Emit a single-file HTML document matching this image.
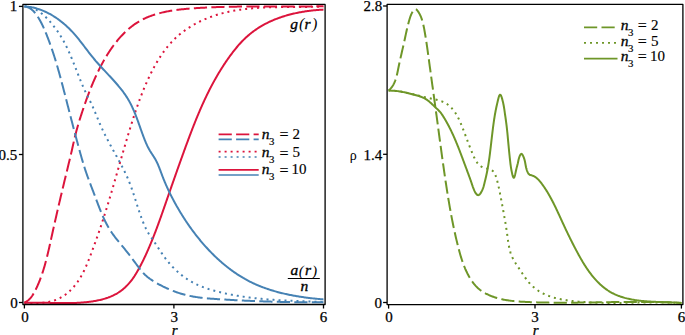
<!DOCTYPE html>
<html><head><meta charset="utf-8"><style>
html,body{margin:0;padding:0;background:#fff;width:685px;height:335px;overflow:hidden;font-family:"Liberation Serif",serif;}
svg{display:block}
</style></head><body>
<svg width="685" height="335" viewBox="0 0 685 335">
<rect width="685" height="335" fill="#fff"/>
<defs><clipPath id="cl"><rect x="22.9" y="4.4" width="302.2" height="300.1"/></clipPath><clipPath id="cr"><rect x="387.1" y="4.4" width="295.8" height="300.2"/></clipPath></defs>
<g clip-path="url(#cl)">
<path d="M24.40,302.70 L25.33,302.23 L26.22,301.71 L27.05,301.14 L27.85,300.54 L28.60,299.91 L29.32,299.24 L30.00,298.53 L30.65,297.80 L31.26,297.05 L31.85,296.26 L32.41,295.46 L32.95,294.64 L33.46,293.80 L33.96,292.94 L34.44,292.08 L34.90,291.20 L35.36,290.31 L35.80,289.42 L36.23,288.53 L36.66,287.63 L37.07,286.73 L37.48,285.83 L37.88,284.92 L38.28,284.01 L38.66,283.09 L39.04,282.17 L39.42,281.25 L39.78,280.33 L40.14,279.40 L40.49,278.47 L40.84,277.54 L41.17,276.61 L41.51,275.67 L41.83,274.73 L42.15,273.78 L42.47,272.84 L42.78,271.89 L43.08,270.94 L43.38,269.99 L43.67,269.04 L43.96,268.08 L44.25,267.12 L44.53,266.16 L44.80,265.20 L45.07,264.24 L45.34,263.27 L45.60,262.31 L45.86,261.34 L46.12,260.37 L46.37,259.40 L46.62,258.43 L46.86,257.46 L47.11,256.48 L47.34,255.51 L47.58,254.53 L47.82,253.56 L48.05,252.58 L48.28,251.60 L48.51,250.62 L48.73,249.64 L48.96,248.66 L49.18,247.68 L49.40,246.70 L49.62,245.72 L49.84,244.74 L50.06,243.76 L50.27,242.78 L50.49,241.80 L50.70,240.82 L50.92,239.84 L51.14,238.86 L51.35,237.88 L51.57,236.90 L51.78,235.92 L52.00,234.94 L52.22,233.97 L52.43,232.99 L52.65,232.01 L52.87,231.03 L53.08,230.06 L53.30,229.08 L53.52,228.11 L53.74,227.13 L53.96,226.16 L54.18,225.19 L54.40,224.21 L54.62,223.24 L54.84,222.27 L55.06,221.29 L55.28,220.32 L55.50,219.35 L55.72,218.38 L55.94,217.41 L56.16,216.44 L56.38,215.46 L56.61,214.49 L56.83,213.52 L57.05,212.55 L57.28,211.58 L57.50,210.61 L57.72,209.64 L57.95,208.67 L58.17,207.71 L58.40,206.74 L58.62,205.77 L58.85,204.80 L59.07,203.83 L59.30,202.86 L59.52,201.89 L59.75,200.92 L59.98,199.96 L60.21,198.99 L60.43,198.02 L60.66,197.05 L60.89,196.08 L61.12,195.11 L61.35,194.15 L61.58,193.18 L61.81,192.21 L62.04,191.24 L62.27,190.27 L62.50,189.30 L62.73,188.34 L62.96,187.37 L63.19,186.40 L63.42,185.43 L63.66,184.46 L63.89,183.49 L64.12,182.52 L64.36,181.55 L64.59,180.58 L64.82,179.61 L65.06,178.64 L65.29,177.67 L65.53,176.70 L65.76,175.73 L66.00,174.76 L66.24,173.79 L66.47,172.82 L66.71,171.85 L66.95,170.88 L67.18,169.90 L67.42,168.93 L67.66,167.96 L67.89,166.99 L68.13,166.01 L68.36,165.04 L68.60,164.07 L68.84,163.09 L69.07,162.12 L69.30,161.15 L69.54,160.17 L69.77,159.20 L70.00,158.23 L70.23,157.25 L70.46,156.28 L70.69,155.31 L70.92,154.33 L71.15,153.36 L71.37,152.38 L71.60,151.41 L71.82,150.44 L72.04,149.46 L72.26,148.49 L72.48,147.51 L72.70,146.54 L72.92,145.57 L73.14,144.59 L73.35,143.62 L73.57,142.65 L73.79,141.68 L74.02,140.70 L74.24,139.73 L74.47,138.76 L74.69,137.79 L74.93,136.83 L75.16,135.86 L75.40,134.89 L75.64,133.93 L75.89,132.96 L76.14,132.00 L76.39,131.04 L76.65,130.08 L76.91,129.12 L77.18,128.16 L77.45,127.20 L77.72,126.25 L78.00,125.29 L78.28,124.33 L78.56,123.38 L78.84,122.43 L79.13,121.47 L79.42,120.52 L79.72,119.57 L80.02,118.62 L80.32,117.67 L80.62,116.72 L80.92,115.77 L81.23,114.82 L81.54,113.87 L81.85,112.92 L82.16,111.97 L82.47,111.02 L82.79,110.07 L83.11,109.13 L83.43,108.18 L83.75,107.23 L84.07,106.29 L84.40,105.34 L84.73,104.40 L85.06,103.45 L85.39,102.51 L85.72,101.56 L86.06,100.62 L86.39,99.68 L86.73,98.73 L87.08,97.79 L87.42,96.85 L87.77,95.92 L88.12,94.98 L88.47,94.04 L88.83,93.10 L89.19,92.17 L89.55,91.24 L89.91,90.30 L90.28,89.37 L90.65,88.44 L91.02,87.51 L91.40,86.59 L91.77,85.66 L92.16,84.74 L92.54,83.81 L92.93,82.89 L93.32,81.97 L93.72,81.05 L94.11,80.14 L94.52,79.22 L94.92,78.31 L95.33,77.40 L95.74,76.49 L96.16,75.58 L96.58,74.68 L97.00,73.78 L97.43,72.88 L97.86,71.98 L98.30,71.08 L98.74,70.19 L99.18,69.30 L99.63,68.41 L100.08,67.52 L100.54,66.64 L101.00,65.75 L101.46,64.87 L101.93,64.00 L102.41,63.12 L102.88,62.25 L103.37,61.38 L103.86,60.52 L104.35,59.65 L104.84,58.79 L105.35,57.94 L105.85,57.08 L106.36,56.23 L106.88,55.38 L107.40,54.54 L107.93,53.70 L108.47,52.86 L109.00,52.02 L109.55,51.19 L110.10,50.37 L110.66,49.54 L111.22,48.72 L111.79,47.91 L112.37,47.10 L112.95,46.29 L113.54,45.48 L114.14,44.68 L114.74,43.89 L115.35,43.10 L115.97,42.31 L116.60,41.53 L117.23,40.75 L117.87,39.98 L118.52,39.21 L119.18,38.45 L119.84,37.69 L120.51,36.94 L121.20,36.19 L121.88,35.45 L122.58,34.72 L123.29,33.99 L124.00,33.27 L124.72,32.55 L125.45,31.85 L126.19,31.15 L126.93,30.46 L127.68,29.79 L128.44,29.12 L129.20,28.46 L129.98,27.81 L130.76,27.18 L131.54,26.55 L132.34,25.94 L133.14,25.34 L133.95,24.75 L134.76,24.18 L135.58,23.62 L136.41,23.07 L137.24,22.54 L138.08,22.02 L138.93,21.52 L139.78,21.03 L140.64,20.55 L141.51,20.08 L142.38,19.63 L143.25,19.18 L144.13,18.75 L145.02,18.34 L145.91,17.93 L146.81,17.53 L147.71,17.15 L148.62,16.78 L149.53,16.42 L150.45,16.07 L151.37,15.73 L152.30,15.40 L153.23,15.08 L154.16,14.77 L155.10,14.47 L156.04,14.18 L156.99,13.90 L157.94,13.63 L158.89,13.36 L159.85,13.11 L160.81,12.87 L161.77,12.63 L162.74,12.40 L163.71,12.18 L164.68,11.97 L165.66,11.76 L166.64,11.56 L167.62,11.37 L168.61,11.19 L169.59,11.01 L170.58,10.84 L171.57,10.68 L172.56,10.52 L173.56,10.37 L174.55,10.23 L175.55,10.09 L176.55,9.95 L177.55,9.82 L178.56,9.70 L179.56,9.58 L180.56,9.46 L181.57,9.35 L182.58,9.25 L183.58,9.15 L184.59,9.05 L185.60,8.96 L186.61,8.86 L187.62,8.78 L188.63,8.69 L189.64,8.61 L190.65,8.53 L191.65,8.46 L192.66,8.38 L193.67,8.31 L194.68,8.24 L195.69,8.18 L196.69,8.11 L197.70,8.05 L198.70,7.98 L199.71,7.92 L200.71,7.86 L201.72,7.80 L202.72,7.75 L203.72,7.69 L204.72,7.64 L205.72,7.59 L206.72,7.54 L207.72,7.49 L208.72,7.44 L209.72,7.40 L210.72,7.35 L211.72,7.31 L212.72,7.27 L213.72,7.23 L214.71,7.19 L215.71,7.15 L216.71,7.12 L217.70,7.08 L218.70,7.05 L219.69,7.02 L220.69,6.99 L221.68,6.96 L222.68,6.93 L223.67,6.90 L224.66,6.87 L225.66,6.85 L226.65,6.82 L227.64,6.80 L228.63,6.78 L229.62,6.76 L230.62,6.74 L231.61,6.72 L232.60,6.70 L233.59,6.68 L234.58,6.67 L235.57,6.65 L236.56,6.64 L237.55,6.62 L238.54,6.61 L239.53,6.60 L240.52,6.58 L241.51,6.57 L242.50,6.56 L243.49,6.55 L244.48,6.55 L245.47,6.54 L246.46,6.53 L247.45,6.52 L248.44,6.52 L249.43,6.51 L250.42,6.51 L251.41,6.50 L252.40,6.50 L253.39,6.50 L254.38,6.49 L255.36,6.49 L256.35,6.49 L257.34,6.49 L258.33,6.49 L259.32,6.49 L260.31,6.48 L261.30,6.48 L262.29,6.48 L263.28,6.48 L264.27,6.49 L265.26,6.49 L266.26,6.49 L267.25,6.49 L268.24,6.49 L269.23,6.49 L270.22,6.49 L271.21,6.50 L272.20,6.50 L273.20,6.50 L274.19,6.50 L275.18,6.50 L276.18,6.51 L277.17,6.51 L278.16,6.51 L279.16,6.51 L280.15,6.51 L281.15,6.51 L282.14,6.52 L283.14,6.52 L284.13,6.52 L285.13,6.52 L286.13,6.52 L287.12,6.52 L288.12,6.52 L289.12,6.52 L290.12,6.52 L291.12,6.52 L292.12,6.52 L293.12,6.52 L294.12,6.52 L295.12,6.51 L296.12,6.51 L297.12,6.51 L298.12,6.51 L299.13,6.50 L300.13,6.50 L301.13,6.49 L302.14,6.49 L303.14,6.48 L304.15,6.47 L305.16,6.47 L306.16,6.46 L307.17,6.45 L308.18,6.44 L309.19,6.43 L310.20,6.42 L311.21,6.41 L312.22,6.39 L313.24,6.38 L314.25,6.37 L315.26,6.35 L316.28,6.34 L317.29,6.32 L318.31,6.30 L319.32,6.28 L320.34,6.26 L321.36,6.24 L322.38,6.22 L323.40,6.20" fill="none" stroke="#dc143c" stroke-width="2.0" stroke-dasharray="13.2 4.3" stroke-linejoin="round"/>

<path d="M24.40,302.70 L25.37,302.75 L26.35,302.81 L27.34,302.86 L28.33,302.90 L29.33,302.94 L30.33,302.98 L31.34,303.01 L32.35,303.03 L33.36,303.05 L34.38,303.05 L35.40,303.05 L36.42,303.04 L37.44,303.02 L38.46,302.99 L39.48,302.95 L40.50,302.89 L41.52,302.82 L42.53,302.74 L43.55,302.64 L44.55,302.53 L45.56,302.40 L46.56,302.26 L47.56,302.10 L48.54,301.92 L49.53,301.72 L50.50,301.51 L51.47,301.27 L52.43,301.01 L53.38,300.74 L54.32,300.44 L55.25,300.11 L56.17,299.77 L57.08,299.40 L57.98,299.01 L58.87,298.59 L59.75,298.16 L60.61,297.70 L61.46,297.22 L62.30,296.72 L63.13,296.21 L63.95,295.67 L64.76,295.12 L65.55,294.54 L66.33,293.95 L67.10,293.34 L67.86,292.72 L68.61,292.08 L69.34,291.42 L70.06,290.75 L70.77,290.07 L71.46,289.37 L72.14,288.65 L72.81,287.93 L73.47,287.19 L74.11,286.44 L74.74,285.68 L75.36,284.91 L75.97,284.13 L76.56,283.34 L77.14,282.53 L77.71,281.72 L78.26,280.90 L78.81,280.07 L79.34,279.23 L79.87,278.39 L80.38,277.53 L80.88,276.67 L81.38,275.80 L81.86,274.92 L82.34,274.04 L82.80,273.15 L83.26,272.26 L83.71,271.36 L84.16,270.45 L84.59,269.54 L85.02,268.62 L85.44,267.70 L85.85,266.78 L86.26,265.85 L86.66,264.91 L87.06,263.98 L87.45,263.04 L87.84,262.10 L88.22,261.16 L88.60,260.21 L88.97,259.27 L89.34,258.32 L89.71,257.37 L90.07,256.42 L90.43,255.47 L90.79,254.52 L91.15,253.58 L91.50,252.63 L91.85,251.68 L92.20,250.73 L92.55,249.79 L92.90,248.85 L93.25,247.90 L93.59,246.96 L93.94,246.02 L94.28,245.08 L94.62,244.14 L94.96,243.20 L95.30,242.26 L95.64,241.33 L95.97,240.39 L96.31,239.45 L96.64,238.51 L96.97,237.58 L97.30,236.64 L97.63,235.70 L97.96,234.77 L98.29,233.83 L98.61,232.89 L98.93,231.96 L99.26,231.02 L99.58,230.08 L99.90,229.14 L100.22,228.21 L100.53,227.27 L100.85,226.33 L101.16,225.39 L101.48,224.44 L101.79,223.50 L102.10,222.56 L102.41,221.62 L102.72,220.67 L103.02,219.73 L103.33,218.78 L103.63,217.84 L103.94,216.89 L104.24,215.94 L104.54,215.00 L104.84,214.05 L105.14,213.10 L105.44,212.15 L105.74,211.20 L106.03,210.25 L106.33,209.30 L106.62,208.35 L106.92,207.40 L107.21,206.45 L107.50,205.49 L107.79,204.54 L108.08,203.59 L108.37,202.63 L108.66,201.68 L108.95,200.73 L109.23,199.77 L109.52,198.82 L109.81,197.86 L110.09,196.90 L110.38,195.95 L110.66,194.99 L110.94,194.03 L111.23,193.08 L111.51,192.12 L111.79,191.16 L112.07,190.20 L112.35,189.24 L112.63,188.28 L112.91,187.33 L113.19,186.37 L113.47,185.41 L113.75,184.45 L114.02,183.49 L114.30,182.53 L114.58,181.57 L114.85,180.61 L115.13,179.64 L115.41,178.68 L115.68,177.72 L115.96,176.76 L116.24,175.80 L116.51,174.84 L116.79,173.88 L117.06,172.92 L117.34,171.95 L117.61,170.99 L117.89,170.03 L118.16,169.07 L118.44,168.11 L118.71,167.14 L118.99,166.18 L119.26,165.22 L119.54,164.26 L119.81,163.30 L120.09,162.33 L120.36,161.37 L120.64,160.41 L120.92,159.45 L121.19,158.49 L121.47,157.52 L121.75,156.56 L122.02,155.60 L122.30,154.64 L122.58,153.68 L122.85,152.72 L123.13,151.76 L123.41,150.79 L123.69,149.83 L123.97,148.87 L124.25,147.91 L124.53,146.95 L124.81,145.99 L125.09,145.03 L125.37,144.07 L125.65,143.11 L125.94,142.16 L126.22,141.20 L126.50,140.24 L126.79,139.28 L127.07,138.32 L127.36,137.36 L127.65,136.41 L127.93,135.45 L128.22,134.49 L128.51,133.54 L128.80,132.58 L129.09,131.62 L129.38,130.67 L129.68,129.71 L129.97,128.76 L130.26,127.81 L130.56,126.85 L130.85,125.90 L131.15,124.95 L131.45,123.99 L131.75,123.04 L132.05,122.09 L132.35,121.14 L132.65,120.19 L132.95,119.24 L133.26,118.29 L133.56,117.34 L133.87,116.39 L134.18,115.44 L134.49,114.50 L134.80,113.55 L135.12,112.61 L135.44,111.66 L135.75,110.72 L136.07,109.77 L136.39,108.83 L136.72,107.89 L137.04,106.95 L137.37,106.01 L137.70,105.07 L138.03,104.13 L138.37,103.19 L138.71,102.25 L139.05,101.32 L139.39,100.38 L139.73,99.45 L140.08,98.51 L140.43,97.58 L140.78,96.65 L141.14,95.72 L141.50,94.79 L141.86,93.86 L142.22,92.94 L142.59,92.01 L142.96,91.08 L143.33,90.16 L143.71,89.24 L144.09,88.32 L144.48,87.40 L144.86,86.48 L145.25,85.56 L145.65,84.64 L146.05,83.73 L146.45,82.81 L146.85,81.90 L147.26,80.99 L147.67,80.08 L148.09,79.17 L148.51,78.26 L148.94,77.35 L149.37,76.45 L149.80,75.55 L150.24,74.64 L150.68,73.74 L151.13,72.85 L151.58,71.95 L152.03,71.05 L152.49,70.16 L152.96,69.27 L153.43,68.38 L153.90,67.49 L154.38,66.61 L154.87,65.73 L155.35,64.85 L155.85,63.97 L156.35,63.10 L156.86,62.23 L157.37,61.37 L157.88,60.51 L158.41,59.65 L158.94,58.80 L159.47,57.95 L160.01,57.10 L160.56,56.26 L161.11,55.43 L161.67,54.60 L162.23,53.77 L162.80,52.95 L163.38,52.14 L163.97,51.33 L164.56,50.53 L165.16,49.73 L165.76,48.94 L166.37,48.15 L166.99,47.37 L167.62,46.60 L168.25,45.84 L168.89,45.08 L169.54,44.32 L170.20,43.58 L170.86,42.84 L171.53,42.11 L172.21,41.39 L172.90,40.67 L173.59,39.97 L174.29,39.27 L175.00,38.58 L175.72,37.89 L176.45,37.22 L177.18,36.56 L177.93,35.90 L178.68,35.25 L179.43,34.61 L180.20,33.98 L180.97,33.35 L181.75,32.74 L182.54,32.13 L183.33,31.53 L184.13,30.94 L184.94,30.36 L185.75,29.78 L186.57,29.22 L187.39,28.66 L188.22,28.11 L189.06,27.57 L189.91,27.04 L190.75,26.51 L191.61,25.99 L192.47,25.48 L193.33,24.98 L194.20,24.49 L195.08,24.00 L195.96,23.53 L196.84,23.06 L197.73,22.60 L198.62,22.14 L199.52,21.70 L200.42,21.26 L201.33,20.83 L202.24,20.41 L203.15,20.00 L204.07,19.59 L204.99,19.19 L205.92,18.80 L206.84,18.42 L207.77,18.04 L208.71,17.68 L209.64,17.32 L210.58,16.97 L211.52,16.62 L212.47,16.29 L213.41,15.96 L214.36,15.64 L215.31,15.33 L216.26,15.02 L217.21,14.72 L218.17,14.43 L219.13,14.15 L220.08,13.88 L221.04,13.61 L222.01,13.35 L222.97,13.10 L223.93,12.85 L224.90,12.61 L225.87,12.38 L226.84,12.15 L227.81,11.93 L228.78,11.72 L229.75,11.51 L230.72,11.31 L231.70,11.12 L232.67,10.93 L233.65,10.75 L234.63,10.57 L235.61,10.40 L236.59,10.24 L237.57,10.08 L238.56,9.93 L239.54,9.78 L240.53,9.64 L241.51,9.50 L242.50,9.37 L243.49,9.24 L244.48,9.12 L245.47,9.00 L246.46,8.89 L247.45,8.78 L248.44,8.67 L249.44,8.57 L250.43,8.48 L251.43,8.39 L252.42,8.30 L253.42,8.22 L254.42,8.14 L255.41,8.06 L256.41,7.99 L257.41,7.93 L258.41,7.86 L259.41,7.80 L260.41,7.74 L261.41,7.69 L262.41,7.64 L263.42,7.59 L264.42,7.54 L265.42,7.50 L266.43,7.46 L267.43,7.42 L268.43,7.39 L269.44,7.36 L270.44,7.33 L271.45,7.30 L272.45,7.27 L273.46,7.25 L274.46,7.23 L275.47,7.21 L276.47,7.19 L277.48,7.17 L278.48,7.16 L279.49,7.14 L280.50,7.13 L281.50,7.12 L282.51,7.11 L283.51,7.10 L284.52,7.09 L285.52,7.08 L286.53,7.08 L287.54,7.07 L288.54,7.06 L289.54,7.06 L290.55,7.05 L291.55,7.05 L292.56,7.04 L293.56,7.04 L294.56,7.03 L295.57,7.03 L296.57,7.02 L297.57,7.02 L298.57,7.01 L299.58,7.00 L300.58,7.00 L301.58,6.99 L302.58,6.98 L303.58,6.97 L304.57,6.96 L305.57,6.95 L306.57,6.93 L307.57,6.92 L308.56,6.90 L309.56,6.88 L310.55,6.86 L311.55,6.84 L312.54,6.82 L313.53,6.79 L314.52,6.76 L315.51,6.73 L316.50,6.70 L317.49,6.66 L318.48,6.63 L319.46,6.59 L320.45,6.54 L321.43,6.50 L322.42,6.45 L323.40,6.40" fill="none" stroke="#dc143c" stroke-width="2.0" stroke-dasharray="2 4" stroke-linejoin="round"/>

<path d="M24.40,302.80 L25.41,302.77 L26.42,302.74 L27.43,302.71 L28.44,302.69 L29.45,302.67 L30.46,302.66 L31.46,302.65 L32.47,302.64 L33.47,302.64 L34.48,302.64 L35.48,302.64 L36.48,302.64 L37.48,302.65 L38.48,302.66 L39.48,302.67 L40.48,302.69 L41.47,302.70 L42.47,302.72 L43.46,302.74 L44.46,302.76 L45.45,302.78 L46.45,302.80 L47.44,302.82 L48.44,302.84 L49.43,302.86 L50.42,302.88 L51.41,302.91 L52.41,302.93 L53.40,302.95 L54.39,302.97 L55.38,302.99 L56.37,303.01 L57.36,303.03 L58.35,303.04 L59.34,303.06 L60.34,303.07 L61.33,303.08 L62.32,303.09 L63.31,303.09 L64.30,303.10 L65.29,303.10 L66.28,303.10 L67.28,303.09 L68.27,303.08 L69.26,303.07 L70.25,303.06 L71.25,303.04 L72.24,303.01 L73.24,302.99 L74.23,302.95 L75.23,302.92 L76.22,302.88 L77.22,302.83 L78.22,302.78 L79.22,302.72 L80.22,302.66 L81.22,302.59 L82.22,302.52 L83.22,302.44 L84.22,302.35 L85.23,302.26 L86.23,302.16 L87.24,302.05 L88.24,301.94 L89.25,301.82 L90.25,301.69 L91.26,301.56 L92.26,301.41 L93.27,301.26 L94.27,301.09 L95.27,300.92 L96.26,300.74 L97.26,300.54 L98.25,300.34 L99.24,300.12 L100.22,299.90 L101.20,299.66 L102.17,299.41 L103.14,299.15 L104.11,298.88 L105.07,298.59 L106.02,298.29 L106.97,297.97 L107.91,297.65 L108.84,297.30 L109.76,296.95 L110.68,296.57 L111.59,296.19 L112.49,295.78 L113.38,295.37 L114.27,294.93 L115.14,294.48 L116.01,294.01 L116.86,293.53 L117.70,293.02 L118.53,292.50 L119.35,291.96 L120.16,291.40 L120.96,290.83 L121.74,290.23 L122.52,289.62 L123.28,288.99 L124.03,288.35 L124.77,287.69 L125.49,287.01 L126.21,286.32 L126.91,285.62 L127.60,284.90 L128.28,284.17 L128.94,283.42 L129.60,282.67 L130.24,281.90 L130.87,281.12 L131.48,280.33 L132.09,279.53 L132.68,278.72 L133.26,277.91 L133.83,277.08 L134.39,276.25 L134.93,275.40 L135.47,274.56 L136.00,273.70 L136.52,272.84 L137.03,271.98 L137.53,271.11 L138.02,270.23 L138.51,269.36 L138.99,268.48 L139.47,267.59 L139.95,266.71 L140.41,265.82 L140.88,264.94 L141.34,264.05 L141.79,263.16 L142.24,262.26 L142.69,261.37 L143.13,260.47 L143.57,259.57 L144.00,258.67 L144.43,257.77 L144.86,256.87 L145.28,255.96 L145.70,255.05 L146.11,254.15 L146.53,253.24 L146.94,252.33 L147.34,251.42 L147.75,250.50 L148.15,249.59 L148.55,248.68 L148.94,247.76 L149.34,246.84 L149.73,245.92 L150.11,245.00 L150.50,244.08 L150.88,243.16 L151.26,242.24 L151.64,241.32 L152.01,240.39 L152.39,239.47 L152.76,238.54 L153.13,237.61 L153.50,236.69 L153.86,235.76 L154.22,234.83 L154.58,233.90 L154.94,232.97 L155.30,232.03 L155.66,231.10 L156.01,230.17 L156.36,229.24 L156.71,228.30 L157.06,227.37 L157.41,226.43 L157.75,225.49 L158.10,224.56 L158.44,223.62 L158.78,222.68 L159.12,221.74 L159.46,220.80 L159.80,219.87 L160.14,218.93 L160.48,217.99 L160.81,217.05 L161.15,216.10 L161.48,215.16 L161.81,214.22 L162.15,213.28 L162.48,212.34 L162.81,211.40 L163.14,210.45 L163.47,209.51 L163.80,208.57 L164.13,207.63 L164.45,206.68 L164.78,205.74 L165.11,204.80 L165.44,203.86 L165.76,202.91 L166.09,201.97 L166.42,201.03 L166.75,200.08 L167.07,199.14 L167.40,198.20 L167.73,197.26 L168.06,196.31 L168.39,195.37 L168.71,194.43 L169.04,193.49 L169.37,192.54 L169.70,191.60 L170.03,190.66 L170.35,189.72 L170.68,188.78 L171.01,187.83 L171.34,186.89 L171.67,185.95 L172.00,185.01 L172.33,184.07 L172.66,183.13 L172.99,182.18 L173.32,181.24 L173.65,180.30 L173.98,179.36 L174.31,178.42 L174.64,177.48 L174.98,176.54 L175.31,175.60 L175.64,174.66 L175.97,173.72 L176.30,172.78 L176.64,171.84 L176.97,170.90 L177.30,169.95 L177.64,169.01 L177.97,168.07 L178.31,167.13 L178.64,166.19 L178.98,165.25 L179.31,164.31 L179.65,163.37 L179.98,162.44 L180.32,161.50 L180.66,160.56 L180.99,159.62 L181.33,158.68 L181.67,157.74 L182.01,156.80 L182.34,155.86 L182.68,154.92 L183.02,153.98 L183.36,153.04 L183.70,152.10 L184.04,151.16 L184.39,150.22 L184.73,149.29 L185.07,148.35 L185.41,147.41 L185.76,146.47 L186.10,145.53 L186.44,144.59 L186.79,143.66 L187.13,142.72 L187.48,141.78 L187.83,140.84 L188.18,139.91 L188.53,138.97 L188.88,138.03 L189.23,137.10 L189.58,136.16 L189.93,135.22 L190.28,134.29 L190.64,133.35 L191.00,132.42 L191.35,131.49 L191.71,130.55 L192.07,129.62 L192.43,128.69 L192.79,127.76 L193.16,126.83 L193.52,125.90 L193.89,124.97 L194.26,124.04 L194.63,123.11 L195.00,122.18 L195.37,121.25 L195.74,120.33 L196.12,119.40 L196.50,118.48 L196.87,117.55 L197.26,116.63 L197.64,115.71 L198.02,114.78 L198.41,113.86 L198.80,112.94 L199.19,112.03 L199.58,111.11 L199.97,110.19 L200.37,109.27 L200.77,108.36 L201.17,107.45 L201.57,106.53 L201.98,105.62 L202.38,104.71 L202.79,103.80 L203.21,102.89 L203.62,101.99 L204.04,101.08 L204.46,100.18 L204.88,99.27 L205.30,98.37 L205.73,97.47 L206.16,96.57 L206.59,95.67 L207.02,94.77 L207.46,93.88 L207.90,92.98 L208.34,92.09 L208.79,91.20 L209.24,90.31 L209.69,89.42 L210.14,88.53 L210.60,87.65 L211.06,86.77 L211.52,85.88 L211.99,85.00 L212.46,84.12 L212.93,83.25 L213.41,82.37 L213.89,81.50 L214.37,80.63 L214.85,79.76 L215.34,78.89 L215.83,78.02 L216.33,77.15 L216.83,76.29 L217.33,75.43 L217.83,74.57 L218.34,73.71 L218.85,72.86 L219.37,72.01 L219.89,71.15 L220.41,70.31 L220.93,69.46 L221.46,68.61 L221.99,67.77 L222.53,66.93 L223.07,66.09 L223.61,65.25 L224.16,64.42 L224.71,63.59 L225.27,62.76 L225.83,61.93 L226.39,61.11 L226.95,60.28 L227.52,59.46 L228.10,58.64 L228.68,57.83 L229.26,57.02 L229.84,56.20 L230.43,55.40 L231.03,54.59 L231.63,53.79 L232.23,52.99 L232.84,52.19 L233.45,51.40 L234.07,50.61 L234.69,49.82 L235.31,49.04 L235.95,48.27 L236.58,47.50 L237.23,46.73 L237.88,45.97 L238.53,45.21 L239.19,44.46 L239.86,43.72 L240.53,42.98 L241.21,42.25 L241.90,41.53 L242.60,40.82 L243.30,40.11 L244.01,39.41 L244.72,38.71 L245.44,38.03 L246.17,37.35 L246.91,36.68 L247.66,36.02 L248.41,35.37 L249.17,34.72 L249.93,34.09 L250.70,33.46 L251.48,32.84 L252.27,32.23 L253.06,31.63 L253.86,31.04 L254.66,30.46 L255.47,29.89 L256.29,29.32 L257.11,28.77 L257.94,28.22 L258.78,27.69 L259.62,27.16 L260.46,26.64 L261.32,26.13 L262.17,25.63 L263.04,25.14 L263.91,24.66 L264.78,24.19 L265.66,23.72 L266.54,23.27 L267.43,22.82 L268.32,22.38 L269.22,21.95 L270.12,21.53 L271.03,21.12 L271.94,20.72 L272.85,20.32 L273.77,19.93 L274.70,19.55 L275.62,19.18 L276.55,18.82 L277.49,18.46 L278.43,18.11 L279.37,17.78 L280.31,17.44 L281.26,17.12 L282.21,16.80 L283.17,16.49 L284.12,16.19 L285.08,15.90 L286.04,15.61 L287.01,15.33 L287.98,15.06 L288.95,14.80 L289.92,14.54 L290.89,14.29 L291.87,14.05 L292.84,13.81 L293.82,13.58 L294.81,13.36 L295.79,13.14 L296.77,12.93 L297.76,12.73 L298.74,12.53 L299.73,12.34 L300.72,12.16 L301.71,11.99 L302.70,11.82 L303.69,11.65 L304.69,11.49 L305.68,11.34 L306.67,11.20 L307.66,11.06 L308.66,10.92 L309.65,10.80 L310.64,10.68 L311.64,10.56 L312.63,10.45 L313.62,10.35 L314.61,10.25 L315.60,10.15 L316.60,10.07 L317.58,9.98 L318.57,9.91 L319.56,9.84 L320.55,9.77 L321.53,9.71 L322.52,9.65 L323.50,9.60" fill="none" stroke="#dc143c" stroke-width="2.0" stroke-linejoin="round"/>

<path d="M24.40,6.40 L25.44,6.57 L26.44,6.80 L27.40,7.11 L28.32,7.48 L29.20,7.91 L30.05,8.39 L30.86,8.93 L31.65,9.51 L32.40,10.15 L33.12,10.82 L33.82,11.52 L34.49,12.26 L35.14,13.03 L35.76,13.83 L36.36,14.64 L36.95,15.47 L37.51,16.32 L38.06,17.17 L38.60,18.03 L39.12,18.90 L39.62,19.77 L40.12,20.65 L40.60,21.53 L41.07,22.42 L41.52,23.31 L41.97,24.20 L42.41,25.10 L42.84,26.00 L43.26,26.91 L43.67,27.81 L44.07,28.73 L44.47,29.64 L44.87,30.55 L45.25,31.47 L45.63,32.39 L46.01,33.31 L46.39,34.24 L46.76,35.16 L47.12,36.09 L47.49,37.01 L47.85,37.94 L48.20,38.87 L48.56,39.80 L48.91,40.73 L49.25,41.67 L49.60,42.60 L49.94,43.54 L50.28,44.48 L50.61,45.41 L50.94,46.35 L51.27,47.29 L51.59,48.24 L51.92,49.18 L52.24,50.12 L52.55,51.07 L52.87,52.01 L53.18,52.96 L53.49,53.91 L53.79,54.86 L54.10,55.81 L54.40,56.76 L54.70,57.71 L54.99,58.66 L55.29,59.61 L55.58,60.57 L55.87,61.52 L56.16,62.48 L56.45,63.44 L56.73,64.39 L57.01,65.35 L57.29,66.31 L57.57,67.27 L57.85,68.23 L58.12,69.19 L58.39,70.15 L58.67,71.11 L58.94,72.07 L59.20,73.04 L59.47,74.00 L59.74,74.96 L60.00,75.93 L60.27,76.89 L60.53,77.85 L60.79,78.82 L61.05,79.79 L61.31,80.75 L61.56,81.72 L61.82,82.68 L62.07,83.65 L62.33,84.62 L62.58,85.58 L62.84,86.55 L63.09,87.52 L63.34,88.49 L63.59,89.45 L63.84,90.42 L64.09,91.39 L64.34,92.36 L64.59,93.33 L64.84,94.29 L65.09,95.26 L65.34,96.23 L65.59,97.20 L65.83,98.17 L66.08,99.13 L66.33,100.10 L66.58,101.07 L66.83,102.04 L67.07,103.00 L67.32,103.97 L67.57,104.94 L67.82,105.91 L68.07,106.87 L68.32,107.84 L68.57,108.81 L68.81,109.77 L69.06,110.74 L69.31,111.70 L69.56,112.67 L69.81,113.64 L70.06,114.60 L70.31,115.57 L70.56,116.53 L70.81,117.50 L71.06,118.47 L71.31,119.43 L71.56,120.40 L71.81,121.36 L72.06,122.33 L72.32,123.29 L72.57,124.26 L72.82,125.22 L73.07,126.19 L73.32,127.15 L73.58,128.12 L73.83,129.08 L74.08,130.04 L74.34,131.01 L74.59,131.97 L74.85,132.94 L75.10,133.90 L75.36,134.87 L75.61,135.83 L75.87,136.79 L76.13,137.76 L76.38,138.72 L76.64,139.69 L76.90,140.65 L77.16,141.61 L77.42,142.58 L77.67,143.54 L77.93,144.50 L78.19,145.47 L78.46,146.43 L78.72,147.40 L78.98,148.36 L79.24,149.32 L79.50,150.29 L79.77,151.25 L80.03,152.21 L80.30,153.17 L80.56,154.14 L80.83,155.10 L81.10,156.06 L81.37,157.02 L81.65,157.98 L81.92,158.94 L82.20,159.90 L82.48,160.86 L82.76,161.82 L83.05,162.77 L83.34,163.73 L83.63,164.68 L83.92,165.64 L84.22,166.59 L84.52,167.54 L84.82,168.49 L85.13,169.44 L85.44,170.39 L85.76,171.33 L86.08,172.28 L86.40,173.22 L86.73,174.16 L87.06,175.10 L87.40,176.04 L87.73,176.98 L88.07,177.91 L88.42,178.85 L88.76,179.78 L89.11,180.72 L89.46,181.65 L89.81,182.58 L90.16,183.52 L90.51,184.45 L90.87,185.38 L91.22,186.32 L91.58,187.25 L91.94,188.18 L92.29,189.11 L92.65,190.05 L93.01,190.98 L93.36,191.91 L93.72,192.85 L94.07,193.78 L94.43,194.72 L94.78,195.65 L95.13,196.59 L95.48,197.53 L95.83,198.47 L96.18,199.41 L96.53,200.34 L96.88,201.28 L97.23,202.22 L97.59,203.16 L97.94,204.09 L98.30,205.03 L98.65,205.97 L99.01,206.90 L99.38,207.83 L99.74,208.76 L100.11,209.69 L100.48,210.62 L100.86,211.54 L101.24,212.47 L101.62,213.39 L102.01,214.31 L102.41,215.22 L102.81,216.13 L103.21,217.04 L103.62,217.95 L104.04,218.85 L104.46,219.75 L104.89,220.65 L105.33,221.54 L105.78,222.42 L106.23,223.31 L106.69,224.19 L107.16,225.06 L107.64,225.93 L108.13,226.79 L108.62,227.65 L109.13,228.51 L109.64,229.35 L110.17,230.20 L110.71,231.03 L111.25,231.86 L111.81,232.69 L112.38,233.51 L112.96,234.32 L113.54,235.13 L114.13,235.94 L114.74,236.74 L115.34,237.53 L115.96,238.33 L116.58,239.12 L117.20,239.90 L117.83,240.69 L118.46,241.47 L119.10,242.25 L119.74,243.03 L120.38,243.81 L121.02,244.58 L121.66,245.36 L122.30,246.13 L122.95,246.91 L123.59,247.68 L124.23,248.46 L124.86,249.24 L125.50,250.02 L126.13,250.80 L126.76,251.58 L127.38,252.36 L127.99,253.15 L128.61,253.94 L129.22,254.73 L129.82,255.52 L130.42,256.31 L131.02,257.11 L131.62,257.90 L132.22,258.70 L132.81,259.49 L133.40,260.29 L133.99,261.09 L134.58,261.88 L135.17,262.68 L135.77,263.48 L136.36,264.27 L136.95,265.07 L137.54,265.86 L138.14,266.65 L138.74,267.44 L139.34,268.23 L139.94,269.01 L140.55,269.79 L141.17,270.56 L141.80,271.33 L142.45,272.08 L143.10,272.81 L143.78,273.54 L144.47,274.24 L145.18,274.93 L145.91,275.60 L146.66,276.25 L147.42,276.89 L148.20,277.52 L149.00,278.12 L149.80,278.72 L150.62,279.30 L151.45,279.87 L152.29,280.42 L153.14,280.97 L153.99,281.50 L154.86,282.03 L155.72,282.54 L156.60,283.05 L157.48,283.55 L158.36,284.04 L159.24,284.52 L160.13,285.00 L161.02,285.46 L161.91,285.92 L162.80,286.38 L163.70,286.82 L164.60,287.26 L165.50,287.69 L166.41,288.11 L167.32,288.52 L168.23,288.93 L169.14,289.32 L170.06,289.71 L170.98,290.09 L171.90,290.47 L172.82,290.83 L173.75,291.19 L174.68,291.53 L175.61,291.87 L176.55,292.20 L177.48,292.53 L178.42,292.84 L179.37,293.14 L180.31,293.44 L181.26,293.73 L182.21,294.01 L183.16,294.28 L184.12,294.54 L185.08,294.79 L186.04,295.03 L187.00,295.27 L187.96,295.49 L188.93,295.71 L189.90,295.91 L190.88,296.11 L191.85,296.30 L192.83,296.48 L193.81,296.65 L194.79,296.82 L195.77,296.98 L196.76,297.13 L197.75,297.27 L198.73,297.41 L199.72,297.54 L200.72,297.66 L201.71,297.78 L202.70,297.89 L203.70,298.00 L204.70,298.10 L205.69,298.20 L206.69,298.30 L207.69,298.39 L208.69,298.47 L209.69,298.56 L210.70,298.64 L211.70,298.71 L212.70,298.79 L213.70,298.86 L214.70,298.93 L215.71,299.00 L216.71,299.06 L217.71,299.13 L218.71,299.19 L219.72,299.25 L220.72,299.32 L221.72,299.38 L222.72,299.44 L223.72,299.50 L224.72,299.56 L225.72,299.62 L226.72,299.68 L227.72,299.74 L228.72,299.80 L229.72,299.85 L230.72,299.91 L231.72,299.97 L232.72,300.02 L233.72,300.07 L234.72,300.13 L235.72,300.18 L236.72,300.23 L237.71,300.28 L238.71,300.34 L239.71,300.39 L240.71,300.43 L241.71,300.48 L242.70,300.53 L243.70,300.58 L244.70,300.63 L245.69,300.67 L246.69,300.72 L247.69,300.76 L248.68,300.81 L249.68,300.85 L250.68,300.89 L251.67,300.94 L252.67,300.98 L253.67,301.02 L254.66,301.06 L255.66,301.10 L256.65,301.14 L257.65,301.18 L258.64,301.21 L259.64,301.25 L260.64,301.29 L261.63,301.32 L262.63,301.36 L263.62,301.39 L264.62,301.43 L265.61,301.46 L266.61,301.49 L267.60,301.52 L268.60,301.55 L269.59,301.59 L270.59,301.62 L271.59,301.64 L272.58,301.67 L273.58,301.70 L274.57,301.73 L275.57,301.76 L276.56,301.78 L277.56,301.81 L278.55,301.83 L279.55,301.86 L280.55,301.88 L281.54,301.90 L282.54,301.92 L283.53,301.95 L284.53,301.97 L285.53,301.99 L286.52,302.01 L287.52,302.03 L288.51,302.05 L289.51,302.06 L290.51,302.08 L291.50,302.10 L292.50,302.11 L293.50,302.13 L294.50,302.14 L295.49,302.16 L296.49,302.17 L297.49,302.18 L298.49,302.20 L299.48,302.21 L300.48,302.22 L301.48,302.23 L302.48,302.24 L303.48,302.25 L304.48,302.26 L305.48,302.26 L306.48,302.27 L307.47,302.28 L308.47,302.28 L309.47,302.29 L310.47,302.29 L311.48,302.30 L312.48,302.30 L313.48,302.30 L314.48,302.31 L315.48,302.31 L316.48,302.31 L317.48,302.31 L318.48,302.31 L319.49,302.31 L320.49,302.31 L321.49,302.31 L322.50,302.30 L323.50,302.30" fill="none" stroke="#4682b4" stroke-width="2.0" stroke-dasharray="13.2 4.3" stroke-linejoin="round"/>

<path d="M24.40,6.40 L25.45,6.49 L26.48,6.62 L27.49,6.79 L28.49,6.99 L29.47,7.22 L30.43,7.49 L31.38,7.79 L32.31,8.12 L33.23,8.48 L34.14,8.87 L35.03,9.28 L35.90,9.73 L36.76,10.20 L37.61,10.69 L38.44,11.21 L39.27,11.75 L40.08,12.31 L40.87,12.90 L41.66,13.50 L42.43,14.12 L43.19,14.76 L43.94,15.42 L44.68,16.09 L45.41,16.78 L46.13,17.48 L46.84,18.19 L47.54,18.91 L48.23,19.65 L48.91,20.39 L49.58,21.14 L50.25,21.90 L50.90,22.67 L51.55,23.44 L52.19,24.22 L52.83,25.00 L53.45,25.78 L54.07,26.57 L54.68,27.37 L55.28,28.17 L55.88,28.97 L56.47,29.78 L57.04,30.60 L57.62,31.41 L58.18,32.24 L58.74,33.06 L59.28,33.90 L59.82,34.73 L60.36,35.57 L60.88,36.42 L61.40,37.27 L61.91,38.12 L62.41,38.98 L62.90,39.84 L63.39,40.71 L63.86,41.58 L64.33,42.46 L64.80,43.34 L65.26,44.22 L65.71,45.10 L66.15,45.99 L66.59,46.88 L67.03,47.78 L67.45,48.68 L67.88,49.58 L68.29,50.48 L68.71,51.39 L69.12,52.30 L69.52,53.21 L69.92,54.12 L70.32,55.04 L70.71,55.96 L71.10,56.88 L71.48,57.80 L71.87,58.72 L72.24,59.65 L72.62,60.57 L73.00,61.50 L73.37,62.43 L73.74,63.36 L74.11,64.29 L74.48,65.22 L74.84,66.15 L75.21,67.08 L75.57,68.01 L75.94,68.95 L76.30,69.88 L76.67,70.81 L77.03,71.74 L77.40,72.68 L77.76,73.61 L78.13,74.54 L78.49,75.47 L78.86,76.40 L79.23,77.33 L79.60,78.26 L79.98,79.19 L80.35,80.11 L80.73,81.04 L81.11,81.96 L81.49,82.88 L81.88,83.80 L82.27,84.72 L82.66,85.64 L83.06,86.55 L83.46,87.46 L83.86,88.37 L84.27,89.28 L84.69,90.19 L85.10,91.09 L85.53,91.99 L85.96,92.88 L86.39,93.77 L86.83,94.66 L87.27,95.55 L87.72,96.44 L88.17,97.33 L88.61,98.21 L89.06,99.10 L89.51,99.98 L89.95,100.87 L90.39,101.76 L90.82,102.65 L91.25,103.55 L91.67,104.45 L92.09,105.35 L92.50,106.26 L92.90,107.17 L93.30,108.08 L93.70,108.99 L94.09,109.91 L94.48,110.83 L94.86,111.75 L95.25,112.67 L95.63,113.59 L96.01,114.51 L96.39,115.44 L96.77,116.36 L97.15,117.29 L97.53,118.21 L97.91,119.13 L98.29,120.06 L98.67,120.98 L99.06,121.90 L99.45,122.82 L99.84,123.74 L100.24,124.65 L100.64,125.57 L101.04,126.48 L101.45,127.39 L101.87,128.30 L102.29,129.20 L102.71,130.10 L103.14,131.01 L103.57,131.90 L104.01,132.80 L104.45,133.70 L104.89,134.59 L105.34,135.48 L105.79,136.37 L106.24,137.26 L106.70,138.14 L107.16,139.03 L107.62,139.91 L108.08,140.80 L108.55,141.68 L109.02,142.56 L109.49,143.44 L109.97,144.32 L110.44,145.20 L110.92,146.07 L111.40,146.95 L111.88,147.82 L112.36,148.70 L112.85,149.58 L113.33,150.45 L113.82,151.33 L114.30,152.20 L114.79,153.07 L115.27,153.95 L115.76,154.82 L116.24,155.70 L116.73,156.57 L117.21,157.45 L117.69,158.33 L118.17,159.20 L118.65,160.08 L119.13,160.96 L119.60,161.84 L120.08,162.72 L120.55,163.60 L121.01,164.48 L121.48,165.37 L121.94,166.25 L122.40,167.14 L122.85,168.03 L123.30,168.92 L123.75,169.81 L124.19,170.71 L124.63,171.60 L125.07,172.50 L125.50,173.40 L125.92,174.30 L126.34,175.21 L126.75,176.11 L127.16,177.02 L127.56,177.94 L127.95,178.85 L128.34,179.77 L128.73,180.69 L129.10,181.61 L129.47,182.54 L129.83,183.47 L130.19,184.40 L130.54,185.33 L130.89,186.27 L131.23,187.21 L131.57,188.15 L131.90,189.09 L132.23,190.03 L132.55,190.98 L132.88,191.92 L133.20,192.87 L133.51,193.82 L133.82,194.77 L134.14,195.72 L134.44,196.68 L134.75,197.63 L135.06,198.58 L135.36,199.54 L135.67,200.49 L135.97,201.44 L136.27,202.40 L136.58,203.35 L136.88,204.31 L137.18,205.26 L137.49,206.21 L137.80,207.17 L138.10,208.12 L138.41,209.07 L138.73,210.02 L139.04,210.97 L139.36,211.91 L139.68,212.86 L140.00,213.81 L140.33,214.75 L140.66,215.69 L140.99,216.63 L141.33,217.57 L141.67,218.50 L142.02,219.44 L142.37,220.37 L142.73,221.30 L143.10,222.22 L143.47,223.14 L143.85,224.06 L144.24,224.98 L144.64,225.89 L145.05,226.79 L145.47,227.69 L145.90,228.58 L146.34,229.47 L146.80,230.34 L147.27,231.21 L147.76,232.08 L148.27,232.93 L148.78,233.77 L149.32,234.61 L149.86,235.45 L150.41,236.28 L150.97,237.10 L151.53,237.92 L152.10,238.74 L152.67,239.56 L153.24,240.38 L153.81,241.20 L154.37,242.03 L154.93,242.85 L155.49,243.68 L156.04,244.51 L156.59,245.35 L157.14,246.18 L157.69,247.02 L158.23,247.85 L158.77,248.69 L159.32,249.52 L159.86,250.36 L160.41,251.19 L160.96,252.03 L161.51,252.86 L162.07,253.68 L162.63,254.51 L163.20,255.33 L163.77,256.14 L164.35,256.95 L164.94,257.76 L165.53,258.56 L166.14,259.35 L166.75,260.14 L167.37,260.92 L168.00,261.70 L168.63,262.47 L169.28,263.23 L169.93,263.99 L170.59,264.74 L171.26,265.48 L171.94,266.21 L172.63,266.94 L173.32,267.66 L174.02,268.37 L174.73,269.07 L175.45,269.76 L176.17,270.45 L176.91,271.13 L177.65,271.80 L178.40,272.46 L179.15,273.11 L179.91,273.75 L180.68,274.38 L181.46,275.01 L182.25,275.62 L183.04,276.23 L183.84,276.82 L184.64,277.40 L185.45,277.98 L186.27,278.54 L187.10,279.09 L187.93,279.64 L188.78,280.17 L189.62,280.69 L190.48,281.20 L191.34,281.70 L192.20,282.18 L193.08,282.66 L193.96,283.12 L194.84,283.57 L195.73,284.01 L196.63,284.44 L197.53,284.86 L198.44,285.26 L199.36,285.66 L200.28,286.04 L201.20,286.42 L202.13,286.78 L203.06,287.14 L204.00,287.49 L204.94,287.83 L205.88,288.16 L206.83,288.48 L207.78,288.79 L208.74,289.10 L209.69,289.40 L210.65,289.69 L211.61,289.97 L212.58,290.25 L213.54,290.53 L214.51,290.79 L215.48,291.05 L216.45,291.31 L217.42,291.56 L218.40,291.81 L219.37,292.05 L220.34,292.28 L221.32,292.52 L222.29,292.74 L223.27,292.97 L224.24,293.19 L225.22,293.40 L226.19,293.61 L227.17,293.82 L228.15,294.02 L229.13,294.22 L230.11,294.42 L231.09,294.61 L232.07,294.80 L233.05,294.98 L234.03,295.16 L235.01,295.34 L235.99,295.51 L236.97,295.68 L237.96,295.84 L238.94,296.00 L239.92,296.16 L240.91,296.32 L241.89,296.47 L242.88,296.62 L243.86,296.76 L244.85,296.90 L245.84,297.04 L246.82,297.17 L247.81,297.31 L248.80,297.44 L249.79,297.56 L250.77,297.69 L251.76,297.81 L252.75,297.92 L253.74,298.04 L254.73,298.15 L255.72,298.26 L256.71,298.37 L257.70,298.47 L258.69,298.57 L259.69,298.67 L260.68,298.77 L261.67,298.86 L262.66,298.95 L263.65,299.04 L264.65,299.13 L265.64,299.21 L266.63,299.30 L267.63,299.38 L268.62,299.45 L269.62,299.53 L270.61,299.61 L271.61,299.68 L272.60,299.75 L273.60,299.82 L274.59,299.88 L275.59,299.95 L276.58,300.01 L277.58,300.08 L278.58,300.14 L279.57,300.20 L280.57,300.25 L281.57,300.31 L282.56,300.36 L283.56,300.42 L284.56,300.47 L285.56,300.52 L286.55,300.57 L287.55,300.62 L288.55,300.66 L289.55,300.71 L290.54,300.76 L291.54,300.80 L292.54,300.84 L293.54,300.89 L294.54,300.93 L295.54,300.97 L296.54,301.01 L297.53,301.05 L298.53,301.09 L299.53,301.13 L300.53,301.16 L301.53,301.20 L302.53,301.24 L303.53,301.27 L304.53,301.31 L305.52,301.35 L306.52,301.38 L307.52,301.42 L308.52,301.45 L309.52,301.49 L310.52,301.52 L311.52,301.56 L312.52,301.59 L313.52,301.63 L314.51,301.66 L315.51,301.70 L316.51,301.74 L317.51,301.77 L318.51,301.81 L319.51,301.85 L320.51,301.88 L321.50,301.92 L322.50,301.96 L323.50,302.00" fill="none" stroke="#4682b4" stroke-width="2.0" stroke-dasharray="2 4" stroke-linejoin="round"/>

<path d="M24.40,6.40 L25.39,6.46 L26.38,6.53 L27.37,6.63 L28.35,6.75 L29.33,6.88 L30.30,7.04 L31.27,7.21 L32.24,7.39 L33.21,7.60 L34.17,7.82 L35.12,8.06 L36.07,8.32 L37.02,8.59 L37.97,8.88 L38.91,9.19 L39.84,9.51 L40.78,9.84 L41.70,10.19 L42.62,10.56 L43.54,10.94 L44.45,11.34 L45.36,11.74 L46.27,12.17 L47.16,12.60 L48.06,13.05 L48.94,13.52 L49.82,13.99 L50.70,14.48 L51.57,14.98 L52.44,15.49 L53.30,16.02 L54.15,16.55 L55.00,17.10 L55.84,17.65 L56.67,18.22 L57.50,18.80 L58.32,19.39 L59.14,19.99 L59.95,20.60 L60.75,21.22 L61.55,21.84 L62.34,22.48 L63.12,23.12 L63.90,23.78 L64.67,24.44 L65.43,25.11 L66.18,25.78 L66.93,26.47 L67.67,27.16 L68.40,27.85 L69.13,28.56 L69.84,29.27 L70.55,29.98 L71.25,30.71 L71.94,31.43 L72.63,32.17 L73.31,32.91 L73.97,33.65 L74.64,34.40 L75.29,35.15 L75.94,35.90 L76.58,36.66 L77.22,37.42 L77.85,38.19 L78.47,38.96 L79.09,39.73 L79.71,40.51 L80.33,41.28 L80.94,42.06 L81.54,42.84 L82.15,43.63 L82.75,44.41 L83.35,45.19 L83.95,45.98 L84.55,46.77 L85.15,47.55 L85.74,48.34 L86.34,49.13 L86.94,49.92 L87.54,50.70 L88.14,51.49 L88.74,52.27 L89.34,53.06 L89.95,53.84 L90.56,54.62 L91.17,55.40 L91.79,56.17 L92.41,56.95 L93.04,57.72 L93.67,58.49 L94.30,59.25 L94.95,60.01 L95.59,60.77 L96.24,61.53 L96.90,62.28 L97.56,63.03 L98.23,63.78 L98.89,64.52 L99.57,65.27 L100.24,66.01 L100.92,66.75 L101.60,67.49 L102.28,68.22 L102.97,68.96 L103.65,69.70 L104.34,70.43 L105.03,71.16 L105.72,71.90 L106.41,72.63 L107.10,73.36 L107.79,74.10 L108.48,74.83 L109.16,75.57 L109.85,76.30 L110.53,77.04 L111.22,77.78 L111.90,78.52 L112.58,79.26 L113.25,80.00 L113.93,80.74 L114.60,81.49 L115.26,82.24 L115.92,82.99 L116.58,83.74 L117.23,84.50 L117.88,85.26 L118.52,86.02 L119.16,86.79 L119.79,87.56 L120.42,88.33 L121.04,89.11 L121.65,89.89 L122.25,90.68 L122.85,91.47 L123.44,92.27 L124.02,93.07 L124.59,93.87 L125.16,94.68 L125.71,95.50 L126.26,96.32 L126.80,97.15 L127.32,97.98 L127.84,98.82 L128.34,99.67 L128.84,100.52 L129.32,101.38 L129.80,102.25 L130.26,103.12 L130.72,104.00 L131.16,104.88 L131.60,105.77 L132.03,106.67 L132.45,107.56 L132.86,108.47 L133.27,109.38 L133.66,110.29 L134.06,111.20 L134.44,112.12 L134.82,113.05 L135.19,113.97 L135.56,114.90 L135.93,115.83 L136.28,116.77 L136.64,117.71 L136.99,118.64 L137.34,119.58 L137.68,120.53 L138.03,121.47 L138.37,122.41 L138.71,123.36 L139.04,124.31 L139.38,125.25 L139.71,126.20 L140.05,127.15 L140.38,128.09 L140.72,129.04 L141.05,129.98 L141.39,130.93 L141.73,131.87 L142.06,132.81 L142.41,133.75 L142.75,134.69 L143.10,135.62 L143.45,136.56 L143.80,137.49 L144.16,138.41 L144.52,139.34 L144.89,140.26 L145.26,141.18 L145.64,142.09 L146.02,143.00 L146.42,143.90 L146.83,144.80 L147.24,145.70 L147.67,146.58 L148.11,147.46 L148.57,148.34 L149.05,149.21 L149.54,150.07 L150.04,150.92 L150.57,151.77 L151.10,152.61 L151.64,153.45 L152.19,154.28 L152.73,155.12 L153.28,155.96 L153.81,156.80 L154.34,157.65 L154.86,158.50 L155.36,159.36 L155.85,160.22 L156.31,161.10 L156.76,161.98 L157.19,162.88 L157.60,163.78 L158.00,164.68 L158.39,165.59 L158.77,166.51 L159.14,167.43 L159.51,168.35 L159.86,169.28 L160.21,170.21 L160.56,171.14 L160.91,172.08 L161.25,173.01 L161.60,173.95 L161.95,174.88 L162.30,175.81 L162.66,176.74 L163.02,177.67 L163.39,178.60 L163.76,179.52 L164.14,180.44 L164.52,181.37 L164.90,182.29 L165.29,183.20 L165.69,184.12 L166.09,185.03 L166.49,185.95 L166.90,186.86 L167.31,187.76 L167.73,188.67 L168.15,189.58 L168.57,190.48 L169.00,191.38 L169.44,192.28 L169.87,193.17 L170.31,194.07 L170.76,194.96 L171.21,195.85 L171.66,196.74 L172.12,197.63 L172.58,198.52 L173.04,199.40 L173.51,200.28 L173.98,201.16 L174.45,202.04 L174.93,202.91 L175.41,203.79 L175.90,204.66 L176.38,205.53 L176.88,206.39 L177.37,207.26 L177.87,208.12 L178.37,208.98 L178.87,209.84 L179.38,210.70 L179.89,211.55 L180.40,212.40 L180.92,213.25 L181.44,214.10 L181.96,214.95 L182.49,215.79 L183.02,216.63 L183.56,217.47 L184.09,218.31 L184.63,219.14 L185.18,219.98 L185.72,220.81 L186.28,221.63 L186.83,222.46 L187.39,223.28 L187.95,224.10 L188.51,224.92 L189.08,225.74 L189.65,226.55 L190.23,227.36 L190.81,228.17 L191.39,228.97 L191.97,229.78 L192.56,230.58 L193.16,231.38 L193.75,232.17 L194.35,232.97 L194.96,233.76 L195.57,234.55 L196.18,235.33 L196.79,236.12 L197.41,236.90 L198.03,237.67 L198.66,238.45 L199.29,239.22 L199.93,239.99 L200.56,240.76 L201.20,241.52 L201.85,242.29 L202.50,243.04 L203.15,243.80 L203.81,244.55 L204.47,245.30 L205.13,246.05 L205.80,246.80 L206.48,247.54 L207.15,248.28 L207.83,249.01 L208.52,249.74 L209.20,250.47 L209.89,251.19 L210.59,251.91 L211.29,252.63 L211.99,253.34 L212.70,254.05 L213.41,254.76 L214.12,255.46 L214.84,256.16 L215.56,256.85 L216.29,257.54 L217.02,258.22 L217.75,258.90 L218.49,259.58 L219.23,260.25 L219.98,260.92 L220.72,261.58 L221.48,262.24 L222.23,262.89 L222.99,263.54 L223.76,264.18 L224.53,264.82 L225.30,265.46 L226.07,266.09 L226.85,266.71 L227.63,267.33 L228.42,267.94 L229.21,268.55 L230.01,269.15 L230.80,269.74 L231.61,270.33 L232.41,270.92 L233.22,271.50 L234.03,272.07 L234.85,272.64 L235.67,273.20 L236.50,273.76 L237.33,274.31 L238.16,274.85 L238.99,275.39 L239.83,275.92 L240.68,276.44 L241.52,276.96 L242.38,277.47 L243.23,277.98 L244.09,278.47 L244.95,278.97 L245.82,279.45 L246.69,279.93 L247.56,280.40 L248.44,280.86 L249.32,281.32 L250.21,281.77 L251.09,282.21 L251.99,282.65 L252.88,283.07 L253.78,283.49 L254.69,283.91 L255.59,284.32 L256.50,284.72 L257.42,285.11 L258.33,285.50 L259.25,285.88 L260.17,286.25 L261.10,286.62 L262.03,286.98 L262.96,287.33 L263.90,287.68 L264.83,288.02 L265.77,288.35 L266.71,288.68 L267.66,289.01 L268.61,289.32 L269.56,289.63 L270.51,289.94 L271.46,290.24 L272.42,290.53 L273.38,290.82 L274.34,291.10 L275.30,291.38 L276.27,291.65 L277.23,291.91 L278.20,292.17 L279.17,292.43 L280.14,292.68 L281.12,292.92 L282.09,293.16 L283.07,293.40 L284.04,293.62 L285.02,293.85 L286.00,294.07 L286.98,294.28 L287.97,294.49 L288.95,294.70 L289.93,294.90 L290.92,295.09 L291.91,295.28 L292.89,295.47 L293.88,295.65 L294.87,295.83 L295.86,296.01 L296.85,296.17 L297.84,296.34 L298.83,296.50 L299.82,296.66 L300.81,296.81 L301.80,296.96 L302.79,297.11 L303.78,297.25 L304.77,297.39 L305.76,297.52 L306.75,297.65 L307.74,297.78 L308.73,297.91 L309.72,298.03 L310.71,298.15 L311.70,298.26 L312.69,298.37 L313.68,298.48 L314.66,298.58 L315.65,298.69 L316.63,298.78 L317.62,298.88 L318.60,298.97 L319.58,299.07 L320.56,299.15 L321.54,299.24 L322.52,299.32 L323.50,299.40" fill="none" stroke="#4682b4" stroke-width="2.0" stroke-linejoin="round"/>

</g>
<g clip-path="url(#cr)">
<path d="M388.60,90.60 L389.37,89.90 L390.09,89.18 L390.76,88.44 L391.39,87.67 L391.98,86.88 L392.53,86.07 L393.04,85.24 L393.52,84.39 L393.97,83.52 L394.38,82.64 L394.77,81.74 L395.13,80.83 L395.46,79.90 L395.78,78.97 L396.07,78.02 L396.34,77.06 L396.60,76.10 L396.84,75.13 L397.08,74.15 L397.30,73.16 L397.51,72.18 L397.72,71.18 L397.92,70.19 L398.12,69.20 L398.32,68.20 L398.52,67.21 L398.73,66.22 L398.93,65.23 L399.14,64.25 L399.36,63.26 L399.57,62.28 L399.78,61.30 L400.00,60.32 L400.22,59.34 L400.44,58.36 L400.66,57.38 L400.88,56.40 L401.10,55.43 L401.33,54.45 L401.55,53.48 L401.77,52.51 L401.99,51.54 L402.22,50.57 L402.44,49.60 L402.66,48.63 L402.88,47.66 L403.10,46.69 L403.32,45.72 L403.54,44.75 L403.76,43.79 L403.97,42.82 L404.19,41.85 L404.40,40.89 L404.61,39.92 L404.82,38.95 L405.03,37.99 L405.23,37.02 L405.44,36.05 L405.64,35.09 L405.85,34.12 L406.06,33.15 L406.27,32.18 L406.49,31.21 L406.70,30.24 L406.92,29.27 L407.15,28.30 L407.38,27.33 L407.61,26.35 L407.86,25.38 L408.10,24.40 L408.36,23.42 L408.62,22.44 L408.89,21.46 L409.17,20.48 L409.46,19.50 L409.76,18.52 L410.07,17.53 L410.40,16.54 L410.75,15.56 L411.14,14.57 L411.59,13.60 L412.10,12.63 L412.70,11.68 L413.37,10.78 L414.09,10.02 L414.82,9.48 L415.53,9.26 L416.21,9.42 L416.84,9.91 L417.43,10.60 L417.98,11.35 L418.51,12.12 L419.00,12.92 L419.47,13.75 L419.91,14.59 L420.33,15.45 L420.72,16.34 L421.09,17.24 L421.44,18.15 L421.76,19.09 L422.07,20.03 L422.36,20.99 L422.63,21.96 L422.89,22.94 L423.14,23.92 L423.37,24.92 L423.59,25.92 L423.80,26.92 L424.00,27.93 L424.19,28.94 L424.38,29.95 L424.56,30.96 L424.74,31.97 L424.91,32.98 L425.08,33.99 L425.25,34.99 L425.42,35.99 L425.58,36.99 L425.74,37.99 L425.90,38.98 L426.06,39.98 L426.21,40.97 L426.37,41.96 L426.52,42.95 L426.66,43.94 L426.81,44.93 L426.95,45.91 L427.10,46.90 L427.24,47.88 L427.38,48.87 L427.52,49.85 L427.66,50.83 L427.79,51.81 L427.93,52.79 L428.06,53.77 L428.20,54.75 L428.33,55.73 L428.47,56.71 L428.60,57.69 L428.73,58.67 L428.86,59.65 L429.00,60.63 L429.13,61.61 L429.26,62.60 L429.39,63.58 L429.53,64.56 L429.66,65.54 L429.80,66.52 L429.93,67.51 L430.06,68.49 L430.20,69.47 L430.33,70.46 L430.47,71.44 L430.60,72.43 L430.74,73.41 L430.87,74.40 L431.01,75.38 L431.14,76.37 L431.28,77.36 L431.41,78.34 L431.55,79.33 L431.68,80.32 L431.82,81.30 L431.96,82.29 L432.09,83.28 L432.23,84.27 L432.36,85.26 L432.50,86.24 L432.64,87.23 L432.77,88.22 L432.91,89.21 L433.05,90.20 L433.18,91.19 L433.32,92.18 L433.46,93.17 L433.59,94.16 L433.73,95.15 L433.87,96.14 L434.00,97.13 L434.14,98.12 L434.28,99.11 L434.41,100.11 L434.55,101.10 L434.68,102.09 L434.82,103.08 L434.96,104.07 L435.09,105.06 L435.23,106.05 L435.37,107.05 L435.50,108.04 L435.64,109.03 L435.77,110.02 L435.91,111.01 L436.04,112.01 L436.18,113.00 L436.32,113.99 L436.45,114.98 L436.59,115.97 L436.72,116.96 L436.86,117.96 L436.99,118.95 L437.12,119.94 L437.26,120.93 L437.39,121.92 L437.53,122.92 L437.66,123.91 L437.79,124.90 L437.93,125.89 L438.06,126.88 L438.19,127.87 L438.33,128.86 L438.46,129.85 L438.59,130.85 L438.73,131.84 L438.86,132.83 L438.99,133.82 L439.12,134.81 L439.26,135.80 L439.39,136.79 L439.52,137.78 L439.66,138.77 L439.79,139.76 L439.92,140.75 L440.05,141.74 L440.19,142.73 L440.32,143.72 L440.45,144.71 L440.59,145.70 L440.72,146.69 L440.86,147.68 L440.99,148.67 L441.12,149.66 L441.26,150.65 L441.39,151.64 L441.53,152.63 L441.66,153.62 L441.80,154.61 L441.93,155.60 L442.07,156.59 L442.21,157.57 L442.34,158.56 L442.48,159.55 L442.62,160.54 L442.75,161.53 L442.89,162.52 L443.03,163.50 L443.17,164.49 L443.31,165.48 L443.45,166.47 L443.59,167.45 L443.73,168.44 L443.87,169.43 L444.01,170.42 L444.15,171.40 L444.30,172.39 L444.44,173.38 L444.58,174.36 L444.73,175.35 L444.87,176.34 L445.02,177.32 L445.16,178.31 L445.31,179.29 L445.46,180.28 L445.60,181.27 L445.75,182.25 L445.90,183.24 L446.05,184.22 L446.20,185.21 L446.35,186.19 L446.50,187.18 L446.66,188.16 L446.81,189.15 L446.96,190.13 L447.12,191.11 L447.27,192.10 L447.43,193.08 L447.59,194.07 L447.75,195.05 L447.91,196.03 L448.07,197.02 L448.23,198.00 L448.39,198.98 L448.55,199.97 L448.72,200.95 L448.88,201.93 L449.05,202.91 L449.22,203.90 L449.39,204.88 L449.56,205.86 L449.73,206.84 L449.90,207.82 L450.08,208.80 L450.25,209.78 L450.43,210.77 L450.61,211.75 L450.79,212.73 L450.97,213.71 L451.15,214.69 L451.34,215.67 L451.52,216.65 L451.71,217.63 L451.90,218.61 L452.09,219.59 L452.28,220.57 L452.47,221.55 L452.67,222.53 L452.87,223.50 L453.06,224.48 L453.27,225.46 L453.47,226.44 L453.67,227.42 L453.88,228.40 L454.09,229.37 L454.30,230.35 L454.51,231.33 L454.72,232.31 L454.94,233.28 L455.16,234.26 L455.38,235.24 L455.60,236.21 L455.82,237.19 L456.05,238.17 L456.28,239.14 L456.51,240.12 L456.74,241.09 L456.98,242.07 L457.22,243.05 L457.46,244.02 L457.70,245.00 L457.94,245.97 L458.19,246.94 L458.44,247.92 L458.69,248.89 L458.95,249.86 L459.21,250.84 L459.47,251.81 L459.74,252.77 L460.02,253.74 L460.29,254.71 L460.58,255.67 L460.87,256.63 L461.16,257.59 L461.46,258.54 L461.77,259.50 L462.08,260.45 L462.40,261.39 L462.73,262.34 L463.07,263.28 L463.41,264.21 L463.76,265.14 L464.12,266.07 L464.49,267.00 L464.87,267.91 L465.25,268.83 L465.65,269.74 L466.06,270.64 L466.47,271.54 L466.90,272.43 L467.34,273.32 L467.79,274.20 L468.25,275.07 L468.72,275.94 L469.20,276.81 L469.70,277.66 L470.21,278.51 L470.73,279.34 L471.27,280.17 L471.82,280.99 L472.39,281.79 L472.98,282.59 L473.58,283.37 L474.19,284.14 L474.83,284.89 L475.48,285.63 L476.16,286.35 L476.85,287.06 L477.56,287.74 L478.29,288.41 L479.05,289.07 L479.82,289.70 L480.62,290.31 L481.44,290.90 L482.28,291.47 L483.14,292.02 L484.02,292.55 L484.91,293.05 L485.81,293.55 L486.72,294.02 L487.65,294.47 L488.58,294.90 L489.52,295.32 L490.46,295.72 L491.40,296.10 L492.35,296.46 L493.30,296.81 L494.25,297.14 L495.21,297.46 L496.16,297.76 L497.12,298.05 L498.08,298.32 L499.05,298.58 L500.01,298.82 L500.98,299.05 L501.95,299.27 L502.92,299.48 L503.89,299.67 L504.87,299.86 L505.84,300.03 L506.82,300.20 L507.80,300.35 L508.78,300.49 L509.76,300.63 L510.74,300.75 L511.73,300.87 L512.72,300.98 L513.70,301.09 L514.69,301.18 L515.68,301.27 L516.67,301.36 L517.66,301.43 L518.65,301.51 L519.64,301.58 L520.64,301.64 L521.63,301.70 L522.62,301.76 L523.62,301.81 L524.61,301.86 L525.61,301.91 L526.60,301.96 L527.60,302.01 L528.59,302.05 L529.59,302.09 L530.59,302.13 L531.58,302.17 L532.58,302.21 L533.58,302.25 L534.58,302.28 L535.57,302.32 L536.57,302.35 L537.57,302.38 L538.57,302.41 L539.57,302.43 L540.56,302.46 L541.56,302.49 L542.56,302.51 L543.56,302.53 L544.56,302.55 L545.56,302.57 L546.56,302.59 L547.56,302.60 L548.56,302.62 L549.56,302.63 L550.56,302.65 L551.56,302.66 L552.56,302.67 L553.56,302.68 L554.57,302.69 L555.57,302.69 L556.57,302.70 L557.57,302.71 L558.57,302.71 L559.57,302.71 L560.58,302.72 L561.58,302.72 L562.58,302.72 L563.58,302.72 L564.58,302.72 L565.59,302.72 L566.59,302.71 L567.59,302.71 L568.60,302.70 L569.60,302.70 L570.60,302.69 L571.60,302.69 L572.61,302.68 L573.61,302.67 L574.61,302.66 L575.62,302.65 L576.62,302.64 L577.62,302.63 L578.63,302.62 L579.63,302.61 L580.63,302.60 L581.64,302.59 L582.64,302.58 L583.64,302.56 L584.65,302.55 L585.65,302.54 L586.66,302.52 L587.66,302.51 L588.66,302.49 L589.67,302.48 L590.67,302.46 L591.67,302.45 L592.68,302.43 L593.68,302.41 L594.68,302.40 L595.69,302.38 L596.69,302.36 L597.69,302.35 L598.70,302.33 L599.70,302.31 L600.70,302.30 L601.71,302.28 L602.71,302.26 L603.71,302.25 L604.72,302.23 L605.72,302.21 L606.72,302.20 L607.73,302.18 L608.73,302.17 L609.73,302.15 L610.73,302.13 L611.74,302.12 L612.74,302.10 L613.74,302.09 L614.74,302.07 L615.74,302.06 L616.75,302.05 L617.75,302.03 L618.75,302.02 L619.75,302.01 L620.75,301.99 L621.75,301.98 L622.76,301.97 L623.76,301.96 L624.76,301.95 L625.76,301.94 L626.76,301.93 L627.76,301.92 L628.76,301.91 L629.76,301.91 L630.76,301.90 L631.76,301.89 L632.76,301.89 L633.76,301.89 L634.75,301.88 L635.75,301.88 L636.75,301.88 L637.75,301.88 L638.75,301.87 L639.75,301.88 L640.74,301.88 L641.74,301.88 L642.74,301.88 L643.74,301.89 L644.73,301.89 L645.73,301.90 L646.73,301.91 L647.72,301.91 L648.72,301.92 L649.71,301.93 L650.71,301.95 L651.70,301.96 L652.70,301.97 L653.69,301.99 L654.69,302.00 L655.68,302.02 L656.67,302.04 L657.67,302.06 L658.66,302.08 L659.65,302.11 L660.64,302.13 L661.63,302.16 L662.63,302.18 L663.62,302.21 L664.61,302.24 L665.60,302.27 L666.59,302.31 L667.58,302.34 L668.57,302.38 L669.56,302.42 L670.55,302.45 L671.54,302.50 L672.52,302.54 L673.51,302.58 L674.50,302.63 L675.49,302.68 L676.47,302.73 L677.46,302.78 L678.44,302.83 L679.43,302.88 L680.42,302.94 L681.40,303.00" fill="none" stroke="#6e9628" stroke-width="2.0" stroke-dasharray="13.2 4.3" stroke-linejoin="round"/>

<path d="M388.60,90.60 L389.61,90.60 L390.61,90.62 L391.61,90.65 L392.61,90.70 L393.61,90.77 L394.60,90.85 L395.60,90.94 L396.59,91.05 L397.58,91.16 L398.57,91.29 L399.56,91.43 L400.54,91.59 L401.53,91.75 L402.51,91.92 L403.49,92.10 L404.47,92.29 L405.45,92.49 L406.43,92.69 L407.41,92.90 L408.39,93.12 L409.36,93.34 L410.34,93.56 L411.31,93.79 L412.28,94.03 L413.25,94.27 L414.23,94.51 L415.20,94.75 L416.17,94.99 L417.14,95.23 L418.10,95.48 L419.07,95.72 L420.04,95.96 L421.01,96.20 L421.98,96.44 L422.94,96.68 L423.91,96.91 L424.88,97.13 L425.84,97.36 L426.81,97.58 L427.78,97.79 L428.74,98.01 L429.71,98.22 L430.68,98.44 L431.66,98.65 L432.63,98.88 L433.61,99.10 L434.59,99.33 L435.57,99.57 L436.56,99.82 L437.55,100.08 L438.54,100.35 L439.53,100.64 L440.51,100.94 L441.48,101.27 L442.43,101.63 L443.36,102.02 L444.26,102.44 L445.13,102.89 L445.98,103.38 L446.80,103.90 L447.60,104.45 L448.37,105.03 L449.12,105.63 L449.84,106.26 L450.54,106.92 L451.23,107.60 L451.89,108.31 L452.53,109.04 L453.15,109.79 L453.75,110.56 L454.33,111.34 L454.90,112.15 L455.45,112.98 L455.98,113.82 L456.50,114.67 L457.00,115.54 L457.49,116.43 L457.96,117.32 L458.42,118.22 L458.87,119.14 L459.31,120.06 L459.74,120.99 L460.16,121.93 L460.57,122.87 L460.97,123.82 L461.36,124.77 L461.75,125.72 L462.13,126.67 L462.50,127.63 L462.87,128.58 L463.23,129.53 L463.59,130.47 L463.95,131.41 L464.30,132.35 L464.65,133.29 L465.00,134.22 L465.35,135.14 L465.69,136.07 L466.04,136.99 L466.38,137.91 L466.73,138.83 L467.07,139.74 L467.42,140.66 L467.76,141.58 L468.11,142.49 L468.46,143.41 L468.81,144.32 L469.16,145.24 L469.52,146.16 L469.88,147.08 L470.24,148.00 L470.60,148.92 L470.97,149.85 L471.34,150.78 L471.72,151.71 L472.10,152.65 L472.49,153.59 L472.89,154.54 L473.29,155.48 L473.70,156.42 L474.13,157.35 L474.58,158.27 L475.04,159.18 L475.52,160.06 L476.03,160.92 L476.56,161.76 L477.12,162.56 L477.71,163.33 L478.33,164.06 L478.99,164.75 L479.68,165.39 L480.42,165.98 L481.20,166.52 L482.02,167.00 L482.89,167.42 L483.81,167.77 L484.76,168.08 L485.74,168.35 L486.73,168.60 L487.72,168.85 L488.70,169.11 L489.65,169.40 L490.57,169.72 L491.43,170.11 L492.23,170.56 L492.96,171.10 L493.60,171.75 L494.16,172.48 L494.64,173.31 L495.06,174.19 L495.44,175.12 L495.78,176.09 L496.10,177.06 L496.40,178.04 L496.70,179.03 L496.98,180.01 L497.25,180.99 L497.51,181.98 L497.76,182.96 L498.00,183.95 L498.23,184.94 L498.46,185.93 L498.68,186.92 L498.89,187.90 L499.10,188.89 L499.30,189.88 L499.50,190.87 L499.70,191.86 L499.89,192.84 L500.08,193.83 L500.27,194.81 L500.46,195.80 L500.65,196.78 L500.84,197.76 L501.02,198.75 L501.21,199.73 L501.40,200.71 L501.58,201.68 L501.77,202.66 L501.95,203.64 L502.14,204.62 L502.32,205.59 L502.51,206.57 L502.69,207.55 L502.87,208.52 L503.05,209.50 L503.23,210.48 L503.41,211.45 L503.59,212.43 L503.76,213.40 L503.94,214.38 L504.11,215.36 L504.28,216.33 L504.46,217.31 L504.63,218.29 L504.80,219.27 L504.96,220.25 L505.13,221.23 L505.30,222.21 L505.46,223.19 L505.62,224.17 L505.78,225.16 L505.94,226.14 L506.10,227.13 L506.25,228.11 L506.41,229.10 L506.56,230.09 L506.71,231.08 L506.86,232.08 L507.00,233.07 L507.15,234.07 L507.29,235.06 L507.43,236.06 L507.57,237.06 L507.71,238.07 L507.84,239.07 L507.98,240.08 L508.12,241.08 L508.27,242.08 L508.42,243.08 L508.57,244.08 L508.74,245.08 L508.92,246.07 L509.10,247.06 L509.31,248.04 L509.52,249.01 L509.75,249.98 L510.00,250.94 L510.27,251.90 L510.56,252.84 L510.87,253.77 L511.21,254.70 L511.57,255.61 L511.96,256.51 L512.36,257.40 L512.80,258.28 L513.25,259.16 L513.71,260.02 L514.20,260.88 L514.70,261.73 L515.21,262.58 L515.74,263.42 L516.28,264.26 L516.82,265.09 L517.37,265.92 L517.93,266.76 L518.49,267.59 L519.05,268.42 L519.61,269.25 L520.17,270.08 L520.72,270.92 L521.28,271.76 L521.83,272.60 L522.38,273.44 L522.93,274.27 L523.49,275.11 L524.05,275.94 L524.61,276.77 L525.18,277.59 L525.76,278.40 L526.34,279.20 L526.94,280.00 L527.55,280.78 L528.18,281.55 L528.81,282.31 L529.46,283.05 L530.13,283.78 L530.81,284.50 L531.50,285.20 L532.21,285.89 L532.93,286.56 L533.67,287.21 L534.42,287.85 L535.19,288.48 L535.97,289.08 L536.77,289.67 L537.59,290.24 L538.42,290.79 L539.26,291.32 L540.11,291.84 L540.98,292.34 L541.86,292.83 L542.75,293.29 L543.65,293.75 L544.56,294.18 L545.48,294.60 L546.40,295.00 L547.34,295.39 L548.28,295.76 L549.22,296.11 L550.17,296.45 L551.12,296.77 L552.08,297.08 L553.04,297.38 L554.00,297.66 L554.96,297.92 L555.93,298.17 L556.90,298.41 L557.87,298.64 L558.84,298.86 L559.82,299.06 L560.79,299.26 L561.77,299.44 L562.75,299.62 L563.73,299.79 L564.71,299.95 L565.69,300.10 L566.68,300.25 L567.66,300.39 L568.65,300.52 L569.63,300.65 L570.62,300.78 L571.60,300.90 L572.59,301.02 L573.58,301.13 L574.57,301.24 L575.56,301.34 L576.55,301.44 L577.54,301.54 L578.53,301.63 L579.52,301.72 L580.51,301.81 L581.50,301.89 L582.49,301.97 L583.49,302.04 L584.48,302.11 L585.47,302.18 L586.47,302.24 L587.46,302.30 L588.46,302.36 L589.45,302.41 L590.45,302.46 L591.45,302.51 L592.44,302.56 L593.44,302.60 L594.44,302.64 L595.43,302.68 L596.43,302.71 L597.43,302.74 L598.43,302.77 L599.43,302.80 L600.43,302.82 L601.42,302.84 L602.42,302.86 L603.42,302.88 L604.42,302.89 L605.42,302.91 L606.42,302.92 L607.43,302.93 L608.43,302.93 L609.43,302.94 L610.43,302.94 L611.43,302.94 L612.43,302.94 L613.43,302.94 L614.44,302.94 L615.44,302.94 L616.44,302.93 L617.44,302.92 L618.44,302.92 L619.45,302.91 L620.45,302.90 L621.45,302.89 L622.46,302.88 L623.46,302.86 L624.46,302.85 L625.46,302.83 L626.47,302.82 L627.47,302.80 L628.47,302.79 L629.48,302.77 L630.48,302.76 L631.48,302.74 L632.49,302.72 L633.49,302.70 L634.49,302.69 L635.49,302.67 L636.50,302.65 L637.50,302.63 L638.50,302.62 L639.50,302.60 L640.51,302.58 L641.51,302.57 L642.51,302.55 L643.51,302.53 L644.52,302.52 L645.52,302.51 L646.52,302.49 L647.52,302.48 L648.52,302.47 L649.52,302.46 L650.52,302.45 L651.52,302.44 L652.52,302.43 L653.52,302.42 L654.52,302.42 L655.52,302.41 L656.52,302.41 L657.52,302.41 L658.52,302.41 L659.52,302.41 L660.52,302.42 L661.52,302.42 L662.51,302.43 L663.51,302.44 L664.51,302.45 L665.51,302.46 L666.50,302.48 L667.50,302.50 L668.49,302.51 L669.49,302.54 L670.48,302.56 L671.48,302.59 L672.47,302.62 L673.47,302.65 L674.46,302.68 L675.45,302.72 L676.45,302.76 L677.44,302.80 L678.43,302.85 L679.42,302.89 L680.41,302.95 L681.40,303.00" fill="none" stroke="#6e9628" stroke-width="2.0" stroke-dasharray="2 4" stroke-linejoin="round"/>

<path d="M388.60,90.60 L389.62,90.59 L390.63,90.60 L391.64,90.63 L392.65,90.67 L393.65,90.73 L394.64,90.81 L395.64,90.90 L396.63,91.01 L397.62,91.13 L398.60,91.26 L399.58,91.41 L400.56,91.57 L401.54,91.74 L402.52,91.92 L403.49,92.12 L404.47,92.32 L405.44,92.53 L406.41,92.75 L407.38,92.98 L408.35,93.21 L409.32,93.45 L410.29,93.70 L411.25,93.95 L412.22,94.21 L413.19,94.47 L414.17,94.73 L415.14,95.00 L416.11,95.26 L417.08,95.54 L418.05,95.83 L419.01,96.12 L419.96,96.44 L420.91,96.77 L421.84,97.13 L422.76,97.51 L423.66,97.92 L424.54,98.36 L425.40,98.84 L426.24,99.36 L427.06,99.91 L427.86,100.49 L428.64,101.10 L429.41,101.74 L430.17,102.39 L430.91,103.07 L431.65,103.75 L432.38,104.45 L433.11,105.15 L433.84,105.86 L434.56,106.56 L435.29,107.26 L436.02,107.96 L436.75,108.64 L437.48,109.33 L438.20,110.02 L438.91,110.73 L439.59,111.45 L440.24,112.19 L440.87,112.97 L441.47,113.76 L442.04,114.58 L442.60,115.41 L443.14,116.25 L443.67,117.10 L444.20,117.95 L444.72,118.81 L445.23,119.67 L445.73,120.54 L446.23,121.41 L446.72,122.28 L447.20,123.16 L447.68,124.04 L448.16,124.92 L448.62,125.81 L449.08,126.70 L449.54,127.59 L449.99,128.48 L450.44,129.38 L450.87,130.27 L451.31,131.17 L451.74,132.08 L452.16,132.98 L452.58,133.88 L453.00,134.79 L453.41,135.70 L453.82,136.61 L454.22,137.52 L454.62,138.43 L455.01,139.35 L455.41,140.27 L455.79,141.18 L456.18,142.10 L456.56,143.02 L456.94,143.95 L457.31,144.87 L457.69,145.80 L458.06,146.72 L458.43,147.65 L458.79,148.58 L459.15,149.51 L459.52,150.44 L459.88,151.37 L460.23,152.30 L460.59,153.24 L460.94,154.17 L461.30,155.11 L461.65,156.04 L462.00,156.98 L462.35,157.92 L462.70,158.86 L463.05,159.79 L463.40,160.73 L463.75,161.67 L464.10,162.62 L464.45,163.56 L464.80,164.50 L465.15,165.44 L465.50,166.38 L465.85,167.33 L466.20,168.27 L466.56,169.21 L466.91,170.16 L467.26,171.10 L467.61,172.04 L467.96,172.98 L468.31,173.92 L468.66,174.86 L469.00,175.79 L469.34,176.73 L469.68,177.66 L470.01,178.58 L470.34,179.51 L470.66,180.43 L470.98,181.35 L471.29,182.26 L471.60,183.17 L471.90,184.08 L472.20,184.99 L472.52,185.92 L472.85,186.87 L473.22,187.86 L473.63,188.89 L474.08,189.98 L474.58,191.09 L475.13,192.18 L475.71,193.18 L476.33,194.04 L476.97,194.69 L477.63,195.09 L478.31,195.16 L478.99,194.90 L479.67,194.36 L480.33,193.58 L480.96,192.65 L481.55,191.60 L482.09,190.51 L482.57,189.42 L482.98,188.39 L483.32,187.41 L483.62,186.45 L483.88,185.53 L484.12,184.61 L484.34,183.70 L484.56,182.77 L484.79,181.83 L485.02,180.87 L485.25,179.90 L485.48,178.92 L485.71,177.93 L485.94,176.93 L486.17,175.93 L486.39,174.93 L486.61,173.94 L486.82,172.95 L487.02,171.96 L487.22,170.97 L487.41,169.98 L487.59,169.00 L487.77,168.02 L487.94,167.04 L488.11,166.07 L488.28,165.09 L488.43,164.12 L488.59,163.14 L488.74,162.17 L488.88,161.19 L489.03,160.22 L489.17,159.24 L489.30,158.26 L489.44,157.29 L489.57,156.31 L489.70,155.33 L489.82,154.34 L489.95,153.36 L490.07,152.37 L490.19,151.38 L490.31,150.38 L490.43,149.39 L490.55,148.39 L490.67,147.39 L490.79,146.38 L490.90,145.38 L491.02,144.37 L491.14,143.36 L491.25,142.36 L491.37,141.35 L491.48,140.34 L491.60,139.33 L491.72,138.32 L491.83,137.31 L491.95,136.30 L492.07,135.29 L492.19,134.28 L492.31,133.28 L492.43,132.27 L492.55,131.27 L492.67,130.27 L492.80,129.27 L492.92,128.27 L493.05,127.28 L493.18,126.29 L493.31,125.30 L493.45,124.32 L493.58,123.34 L493.72,122.36 L493.86,121.39 L494.00,120.42 L494.14,119.46 L494.29,118.50 L494.44,117.55 L494.60,116.60 L494.75,115.66 L494.91,114.72 L495.07,113.79 L495.24,112.87 L495.41,111.96 L495.58,111.04 L495.76,110.13 L495.95,109.20 L496.14,108.26 L496.35,107.30 L496.56,106.31 L496.79,105.29 L497.02,104.23 L497.28,103.12 L497.54,101.96 L497.83,100.74 L498.13,99.47 L498.45,98.21 L498.78,97.04 L499.13,96.04 L499.49,95.26 L499.86,94.78 L500.24,94.68 L500.64,94.99 L501.03,95.63 L501.42,96.55 L501.80,97.66 L502.16,98.88 L502.50,100.16 L502.80,101.40 L503.08,102.58 L503.32,103.68 L503.53,104.74 L503.72,105.74 L503.90,106.70 L504.05,107.64 L504.20,108.55 L504.33,109.45 L504.46,110.34 L504.58,111.24 L504.71,112.15 L504.85,113.08 L504.98,114.03 L505.12,115.00 L505.27,115.99 L505.41,116.98 L505.56,117.99 L505.71,119.00 L505.85,120.01 L505.99,121.03 L506.13,122.05 L506.26,123.06 L506.39,124.07 L506.52,125.07 L506.64,126.07 L506.75,127.06 L506.87,128.05 L506.98,129.03 L507.08,130.02 L507.18,131.00 L507.28,131.98 L507.38,132.96 L507.48,133.94 L507.57,134.92 L507.67,135.90 L507.76,136.89 L507.85,137.87 L507.94,138.86 L508.03,139.85 L508.12,140.85 L508.21,141.85 L508.31,142.86 L508.40,143.87 L508.50,144.88 L508.59,145.89 L508.69,146.91 L508.78,147.93 L508.88,148.95 L508.98,149.96 L509.08,150.98 L509.18,151.99 L509.28,153.00 L509.38,154.00 L509.48,155.00 L509.59,155.99 L509.69,156.98 L509.79,157.95 L509.90,158.92 L510.00,159.88 L510.11,160.82 L510.22,161.75 L510.32,162.67 L510.43,163.59 L510.55,164.50 L510.67,165.42 L510.80,166.36 L510.95,167.32 L511.11,168.33 L511.29,169.38 L511.50,170.49 L511.73,171.66 L511.99,172.91 L512.28,174.17 L512.58,175.37 L512.90,176.41 L513.23,177.21 L513.56,177.69 L513.88,177.76 L514.20,177.42 L514.51,176.74 L514.81,175.79 L515.11,174.64 L515.40,173.37 L515.68,172.04 L515.96,170.73 L516.24,169.50 L516.51,168.38 L516.77,167.36 L517.02,166.40 L517.26,165.49 L517.49,164.61 L517.71,163.74 L517.91,162.86 L518.10,161.95 L518.29,161.01 L518.50,160.04 L518.74,159.04 L519.02,158.02 L519.37,156.98 L519.79,155.92 L520.30,154.91 L520.85,154.14 L521.43,153.85 L522.01,154.16 L522.57,154.90 L523.07,155.85 L523.52,156.85 L523.90,157.84 L524.23,158.83 L524.52,159.83 L524.77,160.82 L524.99,161.81 L525.19,162.80 L525.37,163.78 L525.55,164.76 L525.74,165.74 L525.93,166.71 L526.14,167.67 L526.38,168.63 L526.65,169.58 L526.96,170.52 L527.33,171.46 L527.75,172.38 L528.24,173.29 L528.83,174.09 L529.57,174.71 L530.47,175.08 L531.45,175.32 L532.41,175.61 L533.33,175.96 L534.21,176.39 L535.06,176.87 L535.86,177.42 L536.64,178.02 L537.38,178.66 L538.10,179.35 L538.80,180.07 L539.47,180.82 L540.12,181.59 L540.75,182.39 L541.37,183.19 L541.98,184.01 L542.57,184.83 L543.16,185.65 L543.74,186.47 L544.31,187.30 L544.86,188.13 L545.41,188.97 L545.96,189.81 L546.49,190.65 L547.02,191.50 L547.53,192.35 L548.05,193.21 L548.55,194.06 L549.05,194.92 L549.54,195.79 L550.03,196.66 L550.51,197.53 L550.99,198.40 L551.46,199.28 L551.93,200.16 L552.39,201.04 L552.85,201.93 L553.30,202.82 L553.75,203.71 L554.19,204.60 L554.64,205.49 L555.07,206.39 L555.51,207.29 L555.94,208.19 L556.37,209.09 L556.80,209.99 L557.23,210.90 L557.65,211.80 L558.07,212.71 L558.49,213.62 L558.91,214.52 L559.33,215.43 L559.75,216.34 L560.16,217.25 L560.58,218.16 L561.00,219.07 L561.41,219.98 L561.83,220.89 L562.25,221.80 L562.67,222.71 L563.08,223.62 L563.50,224.53 L563.93,225.44 L564.35,226.35 L564.77,227.25 L565.20,228.16 L565.62,229.06 L566.05,229.97 L566.48,230.87 L566.91,231.78 L567.35,232.68 L567.78,233.58 L568.21,234.48 L568.65,235.38 L569.09,236.28 L569.53,237.18 L569.97,238.07 L570.41,238.97 L570.86,239.86 L571.31,240.76 L571.75,241.65 L572.20,242.54 L572.66,243.43 L573.11,244.32 L573.57,245.21 L574.02,246.10 L574.48,246.98 L574.94,247.87 L575.41,248.75 L575.87,249.63 L576.34,250.51 L576.81,251.39 L577.28,252.27 L577.75,253.15 L578.23,254.02 L578.71,254.90 L579.19,255.77 L579.67,256.64 L580.16,257.51 L580.65,258.38 L581.14,259.24 L581.64,260.10 L582.15,260.96 L582.65,261.82 L583.17,262.67 L583.69,263.52 L584.21,264.37 L584.74,265.21 L585.28,266.05 L585.82,266.89 L586.37,267.72 L586.92,268.55 L587.48,269.37 L588.05,270.19 L588.63,271.01 L589.22,271.82 L589.81,272.63 L590.41,273.43 L591.02,274.23 L591.64,275.02 L592.27,275.81 L592.91,276.59 L593.55,277.36 L594.21,278.13 L594.87,278.89 L595.54,279.64 L596.23,280.39 L596.92,281.12 L597.62,281.85 L598.33,282.56 L599.05,283.27 L599.77,283.96 L600.51,284.65 L601.26,285.32 L602.01,285.98 L602.77,286.63 L603.55,287.26 L604.33,287.88 L605.12,288.49 L605.92,289.08 L606.74,289.66 L607.56,290.23 L608.38,290.77 L609.22,291.30 L610.07,291.82 L610.93,292.31 L611.80,292.79 L612.67,293.26 L613.56,293.70 L614.45,294.13 L615.35,294.54 L616.26,294.94 L617.18,295.32 L618.10,295.69 L619.03,296.04 L619.97,296.38 L620.91,296.70 L621.86,297.01 L622.81,297.31 L623.77,297.59 L624.74,297.87 L625.70,298.12 L626.68,298.37 L627.65,298.61 L628.63,298.83 L629.61,299.04 L630.60,299.25 L631.58,299.44 L632.57,299.62 L633.56,299.80 L634.55,299.96 L635.55,300.12 L636.54,300.26 L637.53,300.40 L638.53,300.53 L639.52,300.66 L640.51,300.78 L641.51,300.89 L642.50,300.99 L643.50,301.09 L644.49,301.18 L645.48,301.26 L646.48,301.34 L647.47,301.42 L648.47,301.49 L649.46,301.55 L650.46,301.62 L651.45,301.67 L652.45,301.73 L653.44,301.78 L654.44,301.82 L655.44,301.87 L656.43,301.91 L657.43,301.95 L658.42,301.98 L659.42,302.02 L660.42,302.05 L661.41,302.08 L662.41,302.11 L663.41,302.14 L664.41,302.17 L665.40,302.20 L666.40,302.23 L667.40,302.27 L668.40,302.30 L669.40,302.33 L670.40,302.36 L671.40,302.40 L672.39,302.44 L673.39,302.47 L674.39,302.52 L675.39,302.56 L676.39,302.61 L677.39,302.66 L678.40,302.71 L679.40,302.77 L680.40,302.83 L681.40,302.90" fill="none" stroke="#6e9628" stroke-width="2.0" stroke-linejoin="round"/>

</g>
<path d="M22.9,4.4 H325.1 V304.5 H22.9 Z" fill="none" stroke="#000" stroke-width="1.3" stroke-linejoin="round"/>
<path d="M387.1,4.4 H682.9 V304.6 H387.1 Z" fill="none" stroke="#000" stroke-width="1.3" stroke-linejoin="round"/>
<line x1="18.9" y1="6.4" x2="22.9" y2="6.4" stroke="#000" stroke-width="1.3"/>
<line x1="18.9" y1="154.5" x2="22.9" y2="154.5" stroke="#000" stroke-width="1.3"/>
<line x1="18.9" y1="302.5" x2="22.9" y2="302.5" stroke="#000" stroke-width="1.3"/>
<line x1="24.4" y1="304.5" x2="24.4" y2="308.5" stroke="#000" stroke-width="1.3"/>
<line x1="173.9" y1="304.5" x2="173.9" y2="308.5" stroke="#000" stroke-width="1.3"/>
<line x1="323.5" y1="304.5" x2="323.5" y2="308.5" stroke="#000" stroke-width="1.3"/>
<line x1="383.1" y1="6.0" x2="387.1" y2="6.0" stroke="#000" stroke-width="1.3"/>
<line x1="383.1" y1="154.3" x2="387.1" y2="154.3" stroke="#000" stroke-width="1.3"/>
<line x1="383.1" y1="302.5" x2="387.1" y2="302.5" stroke="#000" stroke-width="1.3"/>
<line x1="388.6" y1="304.6" x2="388.6" y2="308.6" stroke="#000" stroke-width="1.3"/>
<line x1="535" y1="304.6" x2="535" y2="308.6" stroke="#000" stroke-width="1.3"/>
<line x1="681.4" y1="304.6" x2="681.4" y2="308.6" stroke="#000" stroke-width="1.3"/>
<line x1="218.6" y1="134.3" x2="258.7" y2="134.3" stroke="#dc143c" stroke-width="1.7" stroke-dasharray="13.2 4.3"/>

<line x1="218.6" y1="139.4" x2="258.7" y2="139.4" stroke="#4682b4" stroke-width="1.7" stroke-dasharray="13.2 4.3"/>

<line x1="218.6" y1="151.7" x2="258.7" y2="151.7" stroke="#dc143c" stroke-width="1.7" stroke-dasharray="2 4"/>

<line x1="218.6" y1="157" x2="258.7" y2="157" stroke="#4682b4" stroke-width="1.7" stroke-dasharray="2 4"/>

<line x1="218.6" y1="169.8" x2="258.7" y2="169.8" stroke="#dc143c" stroke-width="1.7"/>

<line x1="218.6" y1="175" x2="258.7" y2="175" stroke="#4682b4" stroke-width="1.7"/>

<line x1="584" y1="27.4" x2="617.5" y2="27.4" stroke="#6e9628" stroke-width="1.7" stroke-dasharray="13.2 4.3"/>

<line x1="584" y1="42.8" x2="617.5" y2="42.8" stroke="#6e9628" stroke-width="1.7" stroke-dasharray="2 4"/>

<line x1="584" y1="58.6" x2="617.5" y2="58.6" stroke="#6e9628" stroke-width="1.7"/>

<text x="17.3" y="11.3" font-family="Liberation Serif, serif" font-size="15" text-anchor="end" fill="#000" stroke="#000" stroke-width="0.25" >1</text>
<text x="17.3" y="159.9" font-family="Liberation Serif, serif" font-size="15" text-anchor="end" fill="#000" stroke="#000" stroke-width="0.25" >0.5</text>
<text x="17.8" y="307.8" font-family="Liberation Serif, serif" font-size="15" text-anchor="end" fill="#000" stroke="#000" stroke-width="0.25" >0</text>
<text x="25" y="321.6" font-family="Liberation Serif, serif" font-size="15" text-anchor="middle" fill="#000" stroke="#000" stroke-width="0.25" >0</text>
<text x="174.3" y="321.6" font-family="Liberation Serif, serif" font-size="15" text-anchor="middle" fill="#000" stroke="#000" stroke-width="0.25" >3</text>
<text x="323.6" y="321.6" font-family="Liberation Serif, serif" font-size="15" text-anchor="middle" fill="#000" stroke="#000" stroke-width="0.25" >6</text>
<text x="174.6" y="335.2" font-family="Liberation Serif, serif" font-size="15" text-anchor="middle" fill="#000" stroke="#000" stroke-width="0.25" font-style="italic">r</text>
<text x="382.3" y="11.3" font-family="Liberation Serif, serif" font-size="15" text-anchor="end" fill="#000" stroke="#000" stroke-width="0.25" >2.8</text>
<text x="382.3" y="159.7" font-family="Liberation Serif, serif" font-size="15" text-anchor="end" fill="#000" stroke="#000" stroke-width="0.25" >1.4</text>
<text x="382" y="307.8" font-family="Liberation Serif, serif" font-size="15" text-anchor="end" fill="#000" stroke="#000" stroke-width="0.25" >0</text>
<text x="353.2" y="159.8" font-family="Liberation Serif, serif" font-size="14" text-anchor="middle" fill="#000"  >ρ</text>
<text x="389" y="321.6" font-family="Liberation Serif, serif" font-size="15" text-anchor="middle" fill="#000" stroke="#000" stroke-width="0.25" >0</text>
<text x="535" y="321.6" font-family="Liberation Serif, serif" font-size="15" text-anchor="middle" fill="#000" stroke="#000" stroke-width="0.25" >3</text>
<text x="681.5" y="321.6" font-family="Liberation Serif, serif" font-size="15" text-anchor="middle" fill="#000" stroke="#000" stroke-width="0.25" >6</text>
<text x="535.6" y="335.2" font-family="Liberation Serif, serif" font-size="15" text-anchor="middle" fill="#000" stroke="#000" stroke-width="0.25" font-style="italic">r</text>
<text x="261.8" y="139" font-family="Liberation Serif, serif" font-size="15.5" fill="#000" font-style="italic" stroke="#000" stroke-width="0.3">n</text><text x="269.0" y="145.0" font-family="Liberation Serif, serif" font-size="10.8" fill="#000" stroke="#000" stroke-width="0.2">3</text><text x="279.4" y="140.4" font-family="Liberation Serif, serif" font-size="16" fill="#000" stroke="#000" stroke-width="0.1">=</text><text x="292.5" y="139" font-family="Liberation Serif, serif" font-size="15" fill="#000" stroke="#000" stroke-width="0.15">2</text>
<text x="261.8" y="157.4" font-family="Liberation Serif, serif" font-size="15.5" fill="#000" font-style="italic" stroke="#000" stroke-width="0.3">n</text><text x="269.0" y="163.4" font-family="Liberation Serif, serif" font-size="10.8" fill="#000" stroke="#000" stroke-width="0.2">3</text><text x="279.4" y="158.8" font-family="Liberation Serif, serif" font-size="16" fill="#000" stroke="#000" stroke-width="0.1">=</text><text x="292.5" y="157.4" font-family="Liberation Serif, serif" font-size="15" fill="#000" stroke="#000" stroke-width="0.15">5</text>
<text x="261.8" y="174.4" font-family="Liberation Serif, serif" font-size="15.5" fill="#000" font-style="italic" stroke="#000" stroke-width="0.3">n</text><text x="269.0" y="180.4" font-family="Liberation Serif, serif" font-size="10.8" fill="#000" stroke="#000" stroke-width="0.2">3</text><text x="279.4" y="175.8" font-family="Liberation Serif, serif" font-size="16" fill="#000" stroke="#000" stroke-width="0.1">=</text><text x="291.6" y="174.4" font-family="Liberation Serif, serif" font-size="15" fill="#000" stroke="#000" stroke-width="0.15">10</text>
<text x="620.8" y="29.9" font-family="Liberation Serif, serif" font-size="15.5" fill="#000" font-style="italic" stroke="#000" stroke-width="0.3">n</text><text x="628.0" y="35.9" font-family="Liberation Serif, serif" font-size="10.8" fill="#000" stroke="#000" stroke-width="0.2">3</text><text x="637.8" y="31.299999999999997" font-family="Liberation Serif, serif" font-size="16" fill="#000" stroke="#000" stroke-width="0.1">=</text><text x="650.9" y="29.9" font-family="Liberation Serif, serif" font-size="15" fill="#000" stroke="#000" stroke-width="0.15">2</text>
<text x="620.8" y="45.6" font-family="Liberation Serif, serif" font-size="15.5" fill="#000" font-style="italic" stroke="#000" stroke-width="0.3">n</text><text x="628.0" y="51.6" font-family="Liberation Serif, serif" font-size="10.8" fill="#000" stroke="#000" stroke-width="0.2">3</text><text x="637.8" y="47.0" font-family="Liberation Serif, serif" font-size="16" fill="#000" stroke="#000" stroke-width="0.1">=</text><text x="650.9" y="45.6" font-family="Liberation Serif, serif" font-size="15" fill="#000" stroke="#000" stroke-width="0.15">5</text>
<text x="620.8" y="60.8" font-family="Liberation Serif, serif" font-size="15.5" fill="#000" font-style="italic" stroke="#000" stroke-width="0.3">n</text><text x="628.0" y="66.8" font-family="Liberation Serif, serif" font-size="10.8" fill="#000" stroke="#000" stroke-width="0.2">3</text><text x="637.8" y="62.199999999999996" font-family="Liberation Serif, serif" font-size="16" fill="#000" stroke="#000" stroke-width="0.1">=</text><text x="650.0" y="60.8" font-family="Liberation Serif, serif" font-size="15" fill="#000" stroke="#000" stroke-width="0.15">10</text>
<text x="290.3" y="28.7" font-family="Liberation Serif, serif" font-size="15.5" fill="#000" font-style="italic" stroke="#000" stroke-width="0.35">g</text>
<text x="0" y="0" font-family="Liberation Serif, serif" font-size="15.8" fill="#000" transform="translate(298.4,29.2) skewX(-9)">(</text>
<text x="304.4" y="28.7" font-family="Liberation Serif, serif" font-size="15.5" fill="#000" font-style="italic" stroke="#000" stroke-width="0.35">r</text>
<text x="0" y="0" font-family="Liberation Serif, serif" font-size="15.8" fill="#000" transform="translate(311.6,29.2) skewX(-9)">)</text>
<text x="290.6" y="274.9" font-family="Liberation Serif, serif" font-size="15.5" fill="#000" font-style="italic" stroke="#000" stroke-width="0.35">a</text>
<text x="0" y="0" font-family="Liberation Serif, serif" font-size="15.2" fill="#000" transform="translate(298.2,275.6) skewX(-9)">(</text>
<text x="305.0" y="274.9" font-family="Liberation Serif, serif" font-size="15.5" fill="#000" font-style="italic" stroke="#000" stroke-width="0.35">r</text>
<text x="0" y="0" font-family="Liberation Serif, serif" font-size="15.2" fill="#000" transform="translate(311.4,275.6) skewX(-9)">)</text>
<line x1="287.8" y1="278.5" x2="319.8" y2="278.5" stroke="#000" stroke-width="1.2"/>
<text x="300.5" y="291.2" font-family="Liberation Serif, serif" font-size="15.5" fill="#000" font-style="italic" stroke="#000" stroke-width="0.35">n</text>
</svg>
</body></html>
